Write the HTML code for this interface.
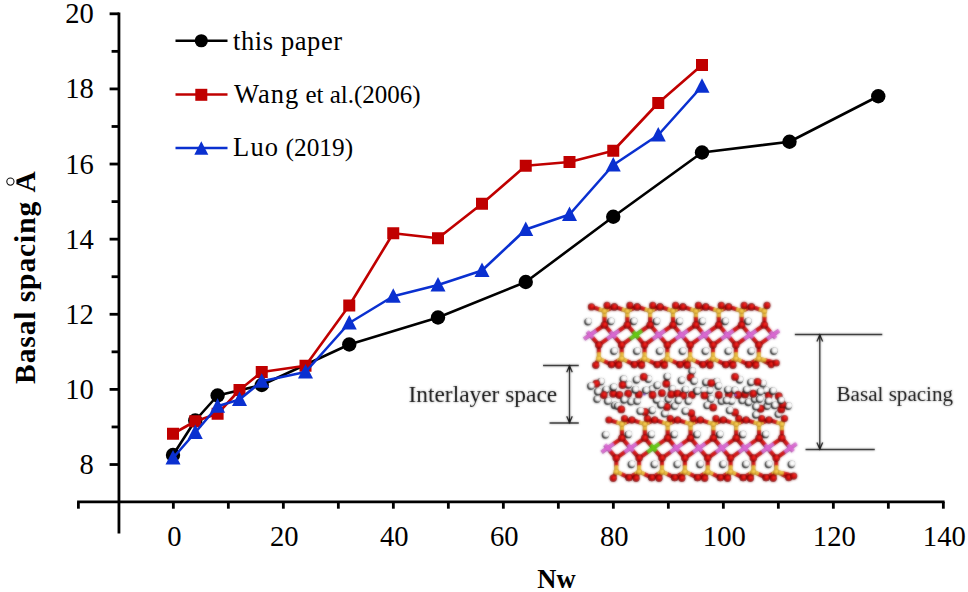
<!DOCTYPE html>
<html lang="en"><head><meta charset="utf-8"><title>Basal spacing vs Nw</title>
<style>html,body{margin:0;padding:0;background:#fff;}body{width:968px;height:592px;overflow:hidden;}svg{display:block;}text{font-family:"Liberation Serif",serif;fill:#000;}</style>
</head><body>
<svg width="968" height="592" viewBox="0 0 968 592">
<defs>
<radialGradient id="gO" cx="0.5" cy="0.5" r="0.5" fx="0.64" fy="0.34"><stop offset="0" stop-color="#ff3a2a"/><stop offset="0.45" stop-color="#e01212"/><stop offset="0.78" stop-color="#a80404"/><stop offset="1" stop-color="#520000"/></radialGradient>
<radialGradient id="gH" cx="0.5" cy="0.5" r="0.5" fx="0.62" fy="0.38"><stop offset="0" stop-color="#ffffff"/><stop offset="0.6" stop-color="#ffffff"/><stop offset="0.85" stop-color="#d8d8d8"/><stop offset="1" stop-color="#8c8c8c"/></radialGradient>
<radialGradient id="gS" cx="0.5" cy="0.5" r="0.5" fx="0.62" fy="0.36"><stop offset="0" stop-color="#ffe477"/><stop offset="0.55" stop-color="#efbf3c"/><stop offset="1" stop-color="#b48420"/></radialGradient>
<filter id="soft" x="-5%" y="-5%" width="110%" height="110%" color-interpolation-filters="sRGB"><feGaussianBlur stdDeviation="0.9" result="b"/><feComposite in="b" in2="SourceGraphic" operator="arithmetic" k1="0" k2="0.7" k3="0.3" k4="0"/></filter>
<filter id="soft2" x="-2%" y="-5%" width="104%" height="110%" color-interpolation-filters="sRGB"><feGaussianBlur stdDeviation="0.8" result="b"/><feComposite in="b" in2="SourceGraphic" operator="arithmetic" k1="0" k2="0.4" k3="0.6" k4="0"/></filter>
</defs>
<rect width="968" height="592" fill="#fff"/>
<g stroke="#000" stroke-width="2.8" fill="none" stroke-linecap="butt">
<path d="M118.95 12.4V533.4"/>
<path d="M77.1 501.9H944.60"/>
<path d="M109.6 464.52H118.95"/>
<path d="M111.6 426.96H118.95"/>
<path d="M109.6 389.40H118.95"/>
<path d="M111.6 351.84H118.95"/>
<path d="M109.6 314.28H118.95"/>
<path d="M111.6 276.72H118.95"/>
<path d="M109.6 239.16H118.95"/>
<path d="M111.6 201.60H118.95"/>
<path d="M109.6 164.04H118.95"/>
<path d="M111.6 126.48H118.95"/>
<path d="M109.6 88.92H118.95"/>
<path d="M111.6 51.36H118.95"/>
<path d="M109.6 13.80H118.95"/>
<path d="M78.4 501.9V508.7"/>
<path d="M173.35 501.9V508.7"/>
<path d="M228.35 501.9V508.7"/>
<path d="M283.35 501.9V508.7"/>
<path d="M338.35 501.9V508.7"/>
<path d="M393.35 501.9V508.7"/>
<path d="M448.35 501.9V508.7"/>
<path d="M503.35 501.9V508.7"/>
<path d="M558.35 501.9V508.7"/>
<path d="M613.35 501.9V508.7"/>
<path d="M668.35 501.9V508.7"/>
<path d="M723.35 501.9V508.7"/>
<path d="M778.35 501.9V508.7"/>
<path d="M833.35 501.9V508.7"/>
<path d="M888.35 501.9V508.7"/>
<path d="M943.35 501.9V508.7"/>
</g>
<g font-size="28.6" text-anchor="end">
<text x="93.8" y="474.02">8</text>
<text x="93.8" y="398.90">10</text>
<text x="93.8" y="323.78">12</text>
<text x="93.8" y="248.66">14</text>
<text x="93.8" y="173.54">16</text>
<text x="93.8" y="98.42">18</text>
<text x="93.8" y="23.30">20</text>
</g>
<g font-size="28.6" text-anchor="middle">
<text x="174.30" y="545.9">0</text>
<text x="284.30" y="545.9">20</text>
<text x="394.30" y="545.9">40</text>
<text x="504.30" y="545.9">60</text>
<text x="614.30" y="545.9">80</text>
<text x="724.30" y="545.9">100</text>
<text x="834.30" y="545.9">120</text>
<text x="944.30" y="545.9">140</text>
</g>
<text x="556.5" y="587.8" font-size="26.5" font-weight="bold" text-anchor="middle">Nw</text>
<g transform="translate(34.5 383.9) rotate(-90)" font-size="29.5" font-weight="bold" letter-spacing="0.9">
<text x="0" y="0">Basal spacing </text>
<clipPath id="clipA"><rect x="185" y="-18.1" width="36" height="30"/></clipPath>
<text x="191.3" y="0" clip-path="url(#clipA)">Å</text>
<circle cx="202.3" cy="-24.1" r="3.6" fill="none" stroke="#111" stroke-width="1.1"/>
</g>
<polyline points="173.00,455.00 195.25,420.50 217.60,395.50 261.75,385.00 349.25,344.50 438.00,317.50 525.75,282.00 613.25,216.75 702.00,152.50 789.50,141.75 878.25,96.25" fill="none" stroke="#000000" stroke-width="2.6" stroke-linejoin="round"/>
<circle cx="173.00" cy="455.00" r="7.2" fill="#000000"/>
<circle cx="195.25" cy="420.50" r="7.2" fill="#000000"/>
<circle cx="217.60" cy="395.50" r="7.2" fill="#000000"/>
<circle cx="261.75" cy="385.00" r="7.2" fill="#000000"/>
<circle cx="349.25" cy="344.50" r="7.2" fill="#000000"/>
<circle cx="438.00" cy="317.50" r="7.2" fill="#000000"/>
<circle cx="525.75" cy="282.00" r="7.2" fill="#000000"/>
<circle cx="613.25" cy="216.75" r="7.2" fill="#000000"/>
<circle cx="702.00" cy="152.50" r="7.2" fill="#000000"/>
<circle cx="789.50" cy="141.75" r="7.2" fill="#000000"/>
<circle cx="878.25" cy="96.25" r="7.2" fill="#000000"/>
<polyline points="173.00,433.75 195.25,421.25 217.60,413.75 239.50,390.00 261.75,372.00 305.50,365.75 349.25,305.50 393.25,233.25 438.00,238.25 482.00,203.75 525.75,165.75 569.50,162.00 613.25,150.75 658.25,103.00 702.00,65.00" fill="none" stroke="#c00000" stroke-width="2.6" stroke-linejoin="round"/>
<rect x="167.00" y="427.75" width="12" height="12" fill="#c00000"/>
<rect x="189.25" y="415.25" width="12" height="12" fill="#c00000"/>
<rect x="211.60" y="407.75" width="12" height="12" fill="#c00000"/>
<rect x="233.50" y="384.00" width="12" height="12" fill="#c00000"/>
<rect x="255.75" y="366.00" width="12" height="12" fill="#c00000"/>
<rect x="299.50" y="359.75" width="12" height="12" fill="#c00000"/>
<rect x="343.25" y="299.50" width="12" height="12" fill="#c00000"/>
<rect x="387.25" y="227.25" width="12" height="12" fill="#c00000"/>
<rect x="432.00" y="232.25" width="12" height="12" fill="#c00000"/>
<rect x="476.00" y="197.75" width="12" height="12" fill="#c00000"/>
<rect x="519.75" y="159.75" width="12" height="12" fill="#c00000"/>
<rect x="563.50" y="156.00" width="12" height="12" fill="#c00000"/>
<rect x="607.25" y="144.75" width="12" height="12" fill="#c00000"/>
<rect x="652.25" y="97.00" width="12" height="12" fill="#c00000"/>
<rect x="696.00" y="59.00" width="12" height="12" fill="#c00000"/>
<polyline points="173.00,458.00 195.25,432.50 217.60,406.25 239.50,399.50 261.75,381.25 305.50,372.00 349.25,323.00 393.25,296.25 438.00,285.00 482.00,270.50 525.75,229.50 569.50,214.50 613.25,165.00 658.25,135.00 702.00,86.25" fill="none" stroke="#0a30d0" stroke-width="2.6" stroke-linejoin="round"/>
<path d="M173.00 450.10L180.50 464.50H165.50Z" fill="#0a30d0"/>
<path d="M195.25 424.60L202.75 439.00H187.75Z" fill="#0a30d0"/>
<path d="M217.60 398.35L225.10 412.75H210.10Z" fill="#0a30d0"/>
<path d="M239.50 391.60L247.00 406.00H232.00Z" fill="#0a30d0"/>
<path d="M261.75 373.35L269.25 387.75H254.25Z" fill="#0a30d0"/>
<path d="M305.50 364.10L313.00 378.50H298.00Z" fill="#0a30d0"/>
<path d="M349.25 315.10L356.75 329.50H341.75Z" fill="#0a30d0"/>
<path d="M393.25 288.35L400.75 302.75H385.75Z" fill="#0a30d0"/>
<path d="M438.00 277.10L445.50 291.50H430.50Z" fill="#0a30d0"/>
<path d="M482.00 262.60L489.50 277.00H474.50Z" fill="#0a30d0"/>
<path d="M525.75 221.60L533.25 236.00H518.25Z" fill="#0a30d0"/>
<path d="M569.50 206.60L577.00 221.00H562.00Z" fill="#0a30d0"/>
<path d="M613.25 157.10L620.75 171.50H605.75Z" fill="#0a30d0"/>
<path d="M658.25 127.10L665.75 141.50H650.75Z" fill="#0a30d0"/>
<path d="M702.00 78.35L709.50 92.75H694.50Z" fill="#0a30d0"/>
<path d="M175.5 40.75H227.5" stroke="#000000" stroke-width="2.4"/><circle cx="201.3" cy="40.75" r="6.6" fill="#000000"/>
<path d="M175.5 94.5H227.5" stroke="#c00000" stroke-width="2.4"/><rect x="195.3" y="88.8" width="12" height="12" fill="#c00000"/>
<path d="M175.5 148H227.5" stroke="#0a30d0" stroke-width="2.4"/><path d="M201.30 141.30L208.30 154.80H194.30Z" fill="#0a30d0"/>
<text x="233" y="49.5" font-size="26.5" letter-spacing="0.6">this paper</text>
<text x="234" y="103.1" font-size="26.5"><tspan letter-spacing="1.0">Wang</tspan><tspan font-size="25"> et al.(2006)</tspan></text>
<text x="233" y="155.5" font-size="26.5"><tspan letter-spacing="1.2">Luo</tspan><tspan font-size="25.3"> (2019)</tspan></text>
<g filter="url(#soft2)">
<g stroke="#0a0a0a" stroke-width="1.35" fill="none">
<path d="M543 365.5H578.8M549.5 423H578.8M569.5 366V422.5"/>
<path d="M566.7 372.3L569.5 366L572.3 372.3M566.7 416.2L569.5 422.5L572.3 416.2"/>
<path d="M794.8 334.5H882.3M805.5 449.5H874.8M819.8 335V449"/>
<path d="M816.9 341.5L819.8 335L822.7 341.5M816.9 442.5L819.8 449L822.7 442.5"/>
</g>
<text x="408.5" y="402" font-size="23.4" fill="#000">Interlayer space</text>
<text x="836.5" y="400.5" font-size="21.1" fill="#000">Basal spacing</text>
</g>
<g filter="url(#soft)">
<path d="M598.94 309.28L591.40 306.90" stroke="#860000" stroke-width="4.1" stroke-linecap="round"/><path d="M599.29 308.93L591.75 306.55" stroke="#d81010" stroke-width="3.03" stroke-linecap="round"/><path d="M604.40 311.00L598.94 309.28" stroke="#a87a18" stroke-width="4.1" stroke-linecap="butt"/><path d="M604.75 310.65L599.29 308.93" stroke="#efbf3c" stroke-width="3.03" stroke-linecap="butt"/><path d="M608.60 309.28L614.40 306.90" stroke="#860000" stroke-width="4.1" stroke-linecap="round"/><path d="M608.95 308.93L614.75 306.55" stroke="#d81010" stroke-width="3.03" stroke-linecap="round"/><path d="M604.40 311.00L608.60 309.28" stroke="#a87a18" stroke-width="4.1" stroke-linecap="butt"/><path d="M604.75 310.65L608.95 308.93" stroke="#efbf3c" stroke-width="3.03" stroke-linecap="butt"/><path d="M605.49 308.73L607.00 305.60" stroke="#860000" stroke-width="4.1" stroke-linecap="round"/><path d="M605.84 308.38L607.35 305.25" stroke="#d81010" stroke-width="3.03" stroke-linecap="round"/><path d="M604.40 311.00L605.49 308.73" stroke="#a87a18" stroke-width="4.1" stroke-linecap="butt"/><path d="M604.75 310.65L605.84 308.38" stroke="#efbf3c" stroke-width="3.03" stroke-linecap="butt"/><path d="M604.40 317.30L604.40 325.00" stroke="#860000" stroke-width="4.1" stroke-linecap="round"/><path d="M604.75 316.95L604.75 324.65" stroke="#d81010" stroke-width="3.03" stroke-linecap="round"/><path d="M604.40 311.00L604.40 317.30" stroke="#a87a18" stroke-width="4.1" stroke-linecap="butt"/><path d="M604.75 310.65L604.75 316.95" stroke="#efbf3c" stroke-width="3.03" stroke-linecap="butt"/><path d="M604.00 361.12L611.25 364.60" stroke="#860000" stroke-width="4.1" stroke-linecap="round"/><path d="M604.35 360.77L611.60 364.25" stroke="#d81010" stroke-width="3.03" stroke-linecap="round"/><path d="M598.75 358.60L604.00 361.12" stroke="#a87a18" stroke-width="4.1" stroke-linecap="butt"/><path d="M599.10 358.25L604.35 360.77" stroke="#efbf3c" stroke-width="3.03" stroke-linecap="butt"/><path d="M597.49 361.20L595.75 364.80" stroke="#860000" stroke-width="4.1" stroke-linecap="round"/><path d="M597.84 360.85L596.10 364.45" stroke="#d81010" stroke-width="3.03" stroke-linecap="round"/><path d="M598.75 358.60L597.49 361.20" stroke="#a87a18" stroke-width="4.1" stroke-linecap="butt"/><path d="M599.10 358.25L597.84 360.85" stroke="#efbf3c" stroke-width="3.03" stroke-linecap="butt"/><path d="M598.75 352.48L598.75 345.00" stroke="#860000" stroke-width="4.1" stroke-linecap="round"/><path d="M599.10 352.13L599.10 344.65" stroke="#d81010" stroke-width="3.03" stroke-linecap="round"/><path d="M598.75 358.60L598.75 352.48" stroke="#a87a18" stroke-width="4.1" stroke-linecap="butt"/><path d="M599.10 358.25L599.10 352.13" stroke="#efbf3c" stroke-width="3.03" stroke-linecap="butt"/><path d="M621.79 309.28L614.25 306.90" stroke="#860000" stroke-width="4.1" stroke-linecap="round"/><path d="M622.14 308.93L614.60 306.55" stroke="#d81010" stroke-width="3.03" stroke-linecap="round"/><path d="M627.25 311.00L621.79 309.28" stroke="#a87a18" stroke-width="4.1" stroke-linecap="butt"/><path d="M627.60 310.65L622.14 308.93" stroke="#efbf3c" stroke-width="3.03" stroke-linecap="butt"/><path d="M631.45 309.28L637.25 306.90" stroke="#860000" stroke-width="4.1" stroke-linecap="round"/><path d="M631.80 308.93L637.60 306.55" stroke="#d81010" stroke-width="3.03" stroke-linecap="round"/><path d="M627.25 311.00L631.45 309.28" stroke="#a87a18" stroke-width="4.1" stroke-linecap="butt"/><path d="M627.60 310.65L631.80 308.93" stroke="#efbf3c" stroke-width="3.03" stroke-linecap="butt"/><path d="M628.34 308.73L629.85 305.60" stroke="#860000" stroke-width="4.1" stroke-linecap="round"/><path d="M628.69 308.38L630.20 305.25" stroke="#d81010" stroke-width="3.03" stroke-linecap="round"/><path d="M627.25 311.00L628.34 308.73" stroke="#a87a18" stroke-width="4.1" stroke-linecap="butt"/><path d="M627.60 310.65L628.69 308.38" stroke="#efbf3c" stroke-width="3.03" stroke-linecap="butt"/><path d="M627.25 317.30L627.25 325.00" stroke="#860000" stroke-width="4.1" stroke-linecap="round"/><path d="M627.60 316.95L627.60 324.65" stroke="#d81010" stroke-width="3.03" stroke-linecap="round"/><path d="M627.25 311.00L627.25 317.30" stroke="#a87a18" stroke-width="4.1" stroke-linecap="butt"/><path d="M627.60 310.65L627.60 316.95" stroke="#efbf3c" stroke-width="3.03" stroke-linecap="butt"/><path d="M626.85 361.12L634.10 364.60" stroke="#860000" stroke-width="4.1" stroke-linecap="round"/><path d="M627.20 360.77L634.45 364.25" stroke="#d81010" stroke-width="3.03" stroke-linecap="round"/><path d="M621.60 358.60L626.85 361.12" stroke="#a87a18" stroke-width="4.1" stroke-linecap="butt"/><path d="M621.95 358.25L627.20 360.77" stroke="#efbf3c" stroke-width="3.03" stroke-linecap="butt"/><path d="M617.40 361.12L611.60 364.60" stroke="#860000" stroke-width="4.1" stroke-linecap="round"/><path d="M617.75 360.77L611.95 364.25" stroke="#d81010" stroke-width="3.03" stroke-linecap="round"/><path d="M621.60 358.60L617.40 361.12" stroke="#a87a18" stroke-width="4.1" stroke-linecap="butt"/><path d="M621.95 358.25L617.75 360.77" stroke="#efbf3c" stroke-width="3.03" stroke-linecap="butt"/><path d="M620.34 361.20L618.60 364.80" stroke="#860000" stroke-width="4.1" stroke-linecap="round"/><path d="M620.69 360.85L618.95 364.45" stroke="#d81010" stroke-width="3.03" stroke-linecap="round"/><path d="M621.60 358.60L620.34 361.20" stroke="#a87a18" stroke-width="4.1" stroke-linecap="butt"/><path d="M621.95 358.25L620.69 360.85" stroke="#efbf3c" stroke-width="3.03" stroke-linecap="butt"/><path d="M621.60 352.48L621.60 345.00" stroke="#860000" stroke-width="4.1" stroke-linecap="round"/><path d="M621.95 352.13L621.95 344.65" stroke="#d81010" stroke-width="3.03" stroke-linecap="round"/><path d="M621.60 358.60L621.60 352.48" stroke="#a87a18" stroke-width="4.1" stroke-linecap="butt"/><path d="M621.95 358.25L621.95 352.13" stroke="#efbf3c" stroke-width="3.03" stroke-linecap="butt"/><path d="M644.64 309.28L637.10 306.90" stroke="#860000" stroke-width="4.1" stroke-linecap="round"/><path d="M644.99 308.93L637.45 306.55" stroke="#d81010" stroke-width="3.03" stroke-linecap="round"/><path d="M650.10 311.00L644.64 309.28" stroke="#a87a18" stroke-width="4.1" stroke-linecap="butt"/><path d="M650.45 310.65L644.99 308.93" stroke="#efbf3c" stroke-width="3.03" stroke-linecap="butt"/><path d="M654.30 309.28L660.10 306.90" stroke="#860000" stroke-width="4.1" stroke-linecap="round"/><path d="M654.65 308.93L660.45 306.55" stroke="#d81010" stroke-width="3.03" stroke-linecap="round"/><path d="M650.10 311.00L654.30 309.28" stroke="#a87a18" stroke-width="4.1" stroke-linecap="butt"/><path d="M650.45 310.65L654.65 308.93" stroke="#efbf3c" stroke-width="3.03" stroke-linecap="butt"/><path d="M651.19 308.73L652.70 305.60" stroke="#860000" stroke-width="4.1" stroke-linecap="round"/><path d="M651.54 308.38L653.05 305.25" stroke="#d81010" stroke-width="3.03" stroke-linecap="round"/><path d="M650.10 311.00L651.19 308.73" stroke="#a87a18" stroke-width="4.1" stroke-linecap="butt"/><path d="M650.45 310.65L651.54 308.38" stroke="#efbf3c" stroke-width="3.03" stroke-linecap="butt"/><path d="M650.10 317.30L650.10 325.00" stroke="#860000" stroke-width="4.1" stroke-linecap="round"/><path d="M650.45 316.95L650.45 324.65" stroke="#d81010" stroke-width="3.03" stroke-linecap="round"/><path d="M650.10 311.00L650.10 317.30" stroke="#a87a18" stroke-width="4.1" stroke-linecap="butt"/><path d="M650.45 310.65L650.45 316.95" stroke="#efbf3c" stroke-width="3.03" stroke-linecap="butt"/><path d="M649.70 361.12L656.95 364.60" stroke="#860000" stroke-width="4.1" stroke-linecap="round"/><path d="M650.05 360.77L657.30 364.25" stroke="#d81010" stroke-width="3.03" stroke-linecap="round"/><path d="M644.45 358.60L649.70 361.12" stroke="#a87a18" stroke-width="4.1" stroke-linecap="butt"/><path d="M644.80 358.25L650.05 360.77" stroke="#efbf3c" stroke-width="3.03" stroke-linecap="butt"/><path d="M640.25 361.12L634.45 364.60" stroke="#860000" stroke-width="4.1" stroke-linecap="round"/><path d="M640.60 360.77L634.80 364.25" stroke="#d81010" stroke-width="3.03" stroke-linecap="round"/><path d="M644.45 358.60L640.25 361.12" stroke="#a87a18" stroke-width="4.1" stroke-linecap="butt"/><path d="M644.80 358.25L640.60 360.77" stroke="#efbf3c" stroke-width="3.03" stroke-linecap="butt"/><path d="M643.19 361.20L641.45 364.80" stroke="#860000" stroke-width="4.1" stroke-linecap="round"/><path d="M643.54 360.85L641.80 364.45" stroke="#d81010" stroke-width="3.03" stroke-linecap="round"/><path d="M644.45 358.60L643.19 361.20" stroke="#a87a18" stroke-width="4.1" stroke-linecap="butt"/><path d="M644.80 358.25L643.54 360.85" stroke="#efbf3c" stroke-width="3.03" stroke-linecap="butt"/><path d="M644.45 352.48L644.45 345.00" stroke="#860000" stroke-width="4.1" stroke-linecap="round"/><path d="M644.80 352.13L644.80 344.65" stroke="#d81010" stroke-width="3.03" stroke-linecap="round"/><path d="M644.45 358.60L644.45 352.48" stroke="#a87a18" stroke-width="4.1" stroke-linecap="butt"/><path d="M644.80 358.25L644.80 352.13" stroke="#efbf3c" stroke-width="3.03" stroke-linecap="butt"/><path d="M667.49 309.28L659.95 306.90" stroke="#860000" stroke-width="4.1" stroke-linecap="round"/><path d="M667.84 308.93L660.30 306.55" stroke="#d81010" stroke-width="3.03" stroke-linecap="round"/><path d="M672.95 311.00L667.49 309.28" stroke="#a87a18" stroke-width="4.1" stroke-linecap="butt"/><path d="M673.30 310.65L667.84 308.93" stroke="#efbf3c" stroke-width="3.03" stroke-linecap="butt"/><path d="M677.15 309.28L682.95 306.90" stroke="#860000" stroke-width="4.1" stroke-linecap="round"/><path d="M677.50 308.93L683.30 306.55" stroke="#d81010" stroke-width="3.03" stroke-linecap="round"/><path d="M672.95 311.00L677.15 309.28" stroke="#a87a18" stroke-width="4.1" stroke-linecap="butt"/><path d="M673.30 310.65L677.50 308.93" stroke="#efbf3c" stroke-width="3.03" stroke-linecap="butt"/><path d="M674.04 308.73L675.55 305.60" stroke="#860000" stroke-width="4.1" stroke-linecap="round"/><path d="M674.39 308.38L675.90 305.25" stroke="#d81010" stroke-width="3.03" stroke-linecap="round"/><path d="M672.95 311.00L674.04 308.73" stroke="#a87a18" stroke-width="4.1" stroke-linecap="butt"/><path d="M673.30 310.65L674.39 308.38" stroke="#efbf3c" stroke-width="3.03" stroke-linecap="butt"/><path d="M672.95 317.30L672.95 325.00" stroke="#860000" stroke-width="4.1" stroke-linecap="round"/><path d="M673.30 316.95L673.30 324.65" stroke="#d81010" stroke-width="3.03" stroke-linecap="round"/><path d="M672.95 311.00L672.95 317.30" stroke="#a87a18" stroke-width="4.1" stroke-linecap="butt"/><path d="M673.30 310.65L673.30 316.95" stroke="#efbf3c" stroke-width="3.03" stroke-linecap="butt"/><path d="M672.55 361.12L679.80 364.60" stroke="#860000" stroke-width="4.1" stroke-linecap="round"/><path d="M672.90 360.77L680.15 364.25" stroke="#d81010" stroke-width="3.03" stroke-linecap="round"/><path d="M667.30 358.60L672.55 361.12" stroke="#a87a18" stroke-width="4.1" stroke-linecap="butt"/><path d="M667.65 358.25L672.90 360.77" stroke="#efbf3c" stroke-width="3.03" stroke-linecap="butt"/><path d="M663.10 361.12L657.30 364.60" stroke="#860000" stroke-width="4.1" stroke-linecap="round"/><path d="M663.45 360.77L657.65 364.25" stroke="#d81010" stroke-width="3.03" stroke-linecap="round"/><path d="M667.30 358.60L663.10 361.12" stroke="#a87a18" stroke-width="4.1" stroke-linecap="butt"/><path d="M667.65 358.25L663.45 360.77" stroke="#efbf3c" stroke-width="3.03" stroke-linecap="butt"/><path d="M666.04 361.20L664.30 364.80" stroke="#860000" stroke-width="4.1" stroke-linecap="round"/><path d="M666.39 360.85L664.65 364.45" stroke="#d81010" stroke-width="3.03" stroke-linecap="round"/><path d="M667.30 358.60L666.04 361.20" stroke="#a87a18" stroke-width="4.1" stroke-linecap="butt"/><path d="M667.65 358.25L666.39 360.85" stroke="#efbf3c" stroke-width="3.03" stroke-linecap="butt"/><path d="M667.30 352.48L667.30 345.00" stroke="#860000" stroke-width="4.1" stroke-linecap="round"/><path d="M667.65 352.13L667.65 344.65" stroke="#d81010" stroke-width="3.03" stroke-linecap="round"/><path d="M667.30 358.60L667.30 352.48" stroke="#a87a18" stroke-width="4.1" stroke-linecap="butt"/><path d="M667.65 358.25L667.65 352.13" stroke="#efbf3c" stroke-width="3.03" stroke-linecap="butt"/><path d="M690.34 309.28L682.80 306.90" stroke="#860000" stroke-width="4.1" stroke-linecap="round"/><path d="M690.69 308.93L683.15 306.55" stroke="#d81010" stroke-width="3.03" stroke-linecap="round"/><path d="M695.80 311.00L690.34 309.28" stroke="#a87a18" stroke-width="4.1" stroke-linecap="butt"/><path d="M696.15 310.65L690.69 308.93" stroke="#efbf3c" stroke-width="3.03" stroke-linecap="butt"/><path d="M700.00 309.28L705.80 306.90" stroke="#860000" stroke-width="4.1" stroke-linecap="round"/><path d="M700.35 308.93L706.15 306.55" stroke="#d81010" stroke-width="3.03" stroke-linecap="round"/><path d="M695.80 311.00L700.00 309.28" stroke="#a87a18" stroke-width="4.1" stroke-linecap="butt"/><path d="M696.15 310.65L700.35 308.93" stroke="#efbf3c" stroke-width="3.03" stroke-linecap="butt"/><path d="M696.89 308.73L698.40 305.60" stroke="#860000" stroke-width="4.1" stroke-linecap="round"/><path d="M697.24 308.38L698.75 305.25" stroke="#d81010" stroke-width="3.03" stroke-linecap="round"/><path d="M695.80 311.00L696.89 308.73" stroke="#a87a18" stroke-width="4.1" stroke-linecap="butt"/><path d="M696.15 310.65L697.24 308.38" stroke="#efbf3c" stroke-width="3.03" stroke-linecap="butt"/><path d="M695.80 317.30L695.80 325.00" stroke="#860000" stroke-width="4.1" stroke-linecap="round"/><path d="M696.15 316.95L696.15 324.65" stroke="#d81010" stroke-width="3.03" stroke-linecap="round"/><path d="M695.80 311.00L695.80 317.30" stroke="#a87a18" stroke-width="4.1" stroke-linecap="butt"/><path d="M696.15 310.65L696.15 316.95" stroke="#efbf3c" stroke-width="3.03" stroke-linecap="butt"/><path d="M695.40 361.12L702.65 364.60" stroke="#860000" stroke-width="4.1" stroke-linecap="round"/><path d="M695.75 360.77L703.00 364.25" stroke="#d81010" stroke-width="3.03" stroke-linecap="round"/><path d="M690.15 358.60L695.40 361.12" stroke="#a87a18" stroke-width="4.1" stroke-linecap="butt"/><path d="M690.50 358.25L695.75 360.77" stroke="#efbf3c" stroke-width="3.03" stroke-linecap="butt"/><path d="M685.95 361.12L680.15 364.60" stroke="#860000" stroke-width="4.1" stroke-linecap="round"/><path d="M686.30 360.77L680.50 364.25" stroke="#d81010" stroke-width="3.03" stroke-linecap="round"/><path d="M690.15 358.60L685.95 361.12" stroke="#a87a18" stroke-width="4.1" stroke-linecap="butt"/><path d="M690.50 358.25L686.30 360.77" stroke="#efbf3c" stroke-width="3.03" stroke-linecap="butt"/><path d="M688.89 361.20L687.15 364.80" stroke="#860000" stroke-width="4.1" stroke-linecap="round"/><path d="M689.24 360.85L687.50 364.45" stroke="#d81010" stroke-width="3.03" stroke-linecap="round"/><path d="M690.15 358.60L688.89 361.20" stroke="#a87a18" stroke-width="4.1" stroke-linecap="butt"/><path d="M690.50 358.25L689.24 360.85" stroke="#efbf3c" stroke-width="3.03" stroke-linecap="butt"/><path d="M690.15 352.48L690.15 345.00" stroke="#860000" stroke-width="4.1" stroke-linecap="round"/><path d="M690.50 352.13L690.50 344.65" stroke="#d81010" stroke-width="3.03" stroke-linecap="round"/><path d="M690.15 358.60L690.15 352.48" stroke="#a87a18" stroke-width="4.1" stroke-linecap="butt"/><path d="M690.50 358.25L690.50 352.13" stroke="#efbf3c" stroke-width="3.03" stroke-linecap="butt"/><path d="M713.19 309.28L705.65 306.90" stroke="#860000" stroke-width="4.1" stroke-linecap="round"/><path d="M713.54 308.93L706.00 306.55" stroke="#d81010" stroke-width="3.03" stroke-linecap="round"/><path d="M718.65 311.00L713.19 309.28" stroke="#a87a18" stroke-width="4.1" stroke-linecap="butt"/><path d="M719.00 310.65L713.54 308.93" stroke="#efbf3c" stroke-width="3.03" stroke-linecap="butt"/><path d="M722.85 309.28L728.65 306.90" stroke="#860000" stroke-width="4.1" stroke-linecap="round"/><path d="M723.20 308.93L729.00 306.55" stroke="#d81010" stroke-width="3.03" stroke-linecap="round"/><path d="M718.65 311.00L722.85 309.28" stroke="#a87a18" stroke-width="4.1" stroke-linecap="butt"/><path d="M719.00 310.65L723.20 308.93" stroke="#efbf3c" stroke-width="3.03" stroke-linecap="butt"/><path d="M719.74 308.73L721.25 305.60" stroke="#860000" stroke-width="4.1" stroke-linecap="round"/><path d="M720.09 308.38L721.60 305.25" stroke="#d81010" stroke-width="3.03" stroke-linecap="round"/><path d="M718.65 311.00L719.74 308.73" stroke="#a87a18" stroke-width="4.1" stroke-linecap="butt"/><path d="M719.00 310.65L720.09 308.38" stroke="#efbf3c" stroke-width="3.03" stroke-linecap="butt"/><path d="M718.65 317.30L718.65 325.00" stroke="#860000" stroke-width="4.1" stroke-linecap="round"/><path d="M719.00 316.95L719.00 324.65" stroke="#d81010" stroke-width="3.03" stroke-linecap="round"/><path d="M718.65 311.00L718.65 317.30" stroke="#a87a18" stroke-width="4.1" stroke-linecap="butt"/><path d="M719.00 310.65L719.00 316.95" stroke="#efbf3c" stroke-width="3.03" stroke-linecap="butt"/><path d="M718.25 361.12L725.50 364.60" stroke="#860000" stroke-width="4.1" stroke-linecap="round"/><path d="M718.60 360.77L725.85 364.25" stroke="#d81010" stroke-width="3.03" stroke-linecap="round"/><path d="M713.00 358.60L718.25 361.12" stroke="#a87a18" stroke-width="4.1" stroke-linecap="butt"/><path d="M713.35 358.25L718.60 360.77" stroke="#efbf3c" stroke-width="3.03" stroke-linecap="butt"/><path d="M708.80 361.12L703.00 364.60" stroke="#860000" stroke-width="4.1" stroke-linecap="round"/><path d="M709.15 360.77L703.35 364.25" stroke="#d81010" stroke-width="3.03" stroke-linecap="round"/><path d="M713.00 358.60L708.80 361.12" stroke="#a87a18" stroke-width="4.1" stroke-linecap="butt"/><path d="M713.35 358.25L709.15 360.77" stroke="#efbf3c" stroke-width="3.03" stroke-linecap="butt"/><path d="M711.74 361.20L710.00 364.80" stroke="#860000" stroke-width="4.1" stroke-linecap="round"/><path d="M712.09 360.85L710.35 364.45" stroke="#d81010" stroke-width="3.03" stroke-linecap="round"/><path d="M713.00 358.60L711.74 361.20" stroke="#a87a18" stroke-width="4.1" stroke-linecap="butt"/><path d="M713.35 358.25L712.09 360.85" stroke="#efbf3c" stroke-width="3.03" stroke-linecap="butt"/><path d="M713.00 352.48L713.00 345.00" stroke="#860000" stroke-width="4.1" stroke-linecap="round"/><path d="M713.35 352.13L713.35 344.65" stroke="#d81010" stroke-width="3.03" stroke-linecap="round"/><path d="M713.00 358.60L713.00 352.48" stroke="#a87a18" stroke-width="4.1" stroke-linecap="butt"/><path d="M713.35 358.25L713.35 352.13" stroke="#efbf3c" stroke-width="3.03" stroke-linecap="butt"/><path d="M736.04 309.28L728.50 306.90" stroke="#860000" stroke-width="4.1" stroke-linecap="round"/><path d="M736.39 308.93L728.85 306.55" stroke="#d81010" stroke-width="3.03" stroke-linecap="round"/><path d="M741.50 311.00L736.04 309.28" stroke="#a87a18" stroke-width="4.1" stroke-linecap="butt"/><path d="M741.85 310.65L736.39 308.93" stroke="#efbf3c" stroke-width="3.03" stroke-linecap="butt"/><path d="M745.70 309.28L751.50 306.90" stroke="#860000" stroke-width="4.1" stroke-linecap="round"/><path d="M746.05 308.93L751.85 306.55" stroke="#d81010" stroke-width="3.03" stroke-linecap="round"/><path d="M741.50 311.00L745.70 309.28" stroke="#a87a18" stroke-width="4.1" stroke-linecap="butt"/><path d="M741.85 310.65L746.05 308.93" stroke="#efbf3c" stroke-width="3.03" stroke-linecap="butt"/><path d="M742.59 308.73L744.10 305.60" stroke="#860000" stroke-width="4.1" stroke-linecap="round"/><path d="M742.94 308.38L744.45 305.25" stroke="#d81010" stroke-width="3.03" stroke-linecap="round"/><path d="M741.50 311.00L742.59 308.73" stroke="#a87a18" stroke-width="4.1" stroke-linecap="butt"/><path d="M741.85 310.65L742.94 308.38" stroke="#efbf3c" stroke-width="3.03" stroke-linecap="butt"/><path d="M741.50 317.30L741.50 325.00" stroke="#860000" stroke-width="4.1" stroke-linecap="round"/><path d="M741.85 316.95L741.85 324.65" stroke="#d81010" stroke-width="3.03" stroke-linecap="round"/><path d="M741.50 311.00L741.50 317.30" stroke="#a87a18" stroke-width="4.1" stroke-linecap="butt"/><path d="M741.85 310.65L741.85 316.95" stroke="#efbf3c" stroke-width="3.03" stroke-linecap="butt"/><path d="M741.10 361.12L748.35 364.60" stroke="#860000" stroke-width="4.1" stroke-linecap="round"/><path d="M741.45 360.77L748.70 364.25" stroke="#d81010" stroke-width="3.03" stroke-linecap="round"/><path d="M735.85 358.60L741.10 361.12" stroke="#a87a18" stroke-width="4.1" stroke-linecap="butt"/><path d="M736.20 358.25L741.45 360.77" stroke="#efbf3c" stroke-width="3.03" stroke-linecap="butt"/><path d="M731.65 361.12L725.85 364.60" stroke="#860000" stroke-width="4.1" stroke-linecap="round"/><path d="M732.00 360.77L726.20 364.25" stroke="#d81010" stroke-width="3.03" stroke-linecap="round"/><path d="M735.85 358.60L731.65 361.12" stroke="#a87a18" stroke-width="4.1" stroke-linecap="butt"/><path d="M736.20 358.25L732.00 360.77" stroke="#efbf3c" stroke-width="3.03" stroke-linecap="butt"/><path d="M734.59 361.20L732.85 364.80" stroke="#860000" stroke-width="4.1" stroke-linecap="round"/><path d="M734.94 360.85L733.20 364.45" stroke="#d81010" stroke-width="3.03" stroke-linecap="round"/><path d="M735.85 358.60L734.59 361.20" stroke="#a87a18" stroke-width="4.1" stroke-linecap="butt"/><path d="M736.20 358.25L734.94 360.85" stroke="#efbf3c" stroke-width="3.03" stroke-linecap="butt"/><path d="M735.85 352.48L735.85 345.00" stroke="#860000" stroke-width="4.1" stroke-linecap="round"/><path d="M736.20 352.13L736.20 344.65" stroke="#d81010" stroke-width="3.03" stroke-linecap="round"/><path d="M735.85 358.60L735.85 352.48" stroke="#a87a18" stroke-width="4.1" stroke-linecap="butt"/><path d="M736.20 358.25L736.20 352.13" stroke="#efbf3c" stroke-width="3.03" stroke-linecap="butt"/><path d="M758.89 309.28L751.35 306.90" stroke="#860000" stroke-width="4.1" stroke-linecap="round"/><path d="M759.24 308.93L751.70 306.55" stroke="#d81010" stroke-width="3.03" stroke-linecap="round"/><path d="M764.35 311.00L758.89 309.28" stroke="#a87a18" stroke-width="4.1" stroke-linecap="butt"/><path d="M764.70 310.65L759.24 308.93" stroke="#efbf3c" stroke-width="3.03" stroke-linecap="butt"/><path d="M765.44 308.73L766.95 305.60" stroke="#860000" stroke-width="4.1" stroke-linecap="round"/><path d="M765.79 308.38L767.30 305.25" stroke="#d81010" stroke-width="3.03" stroke-linecap="round"/><path d="M764.35 311.00L765.44 308.73" stroke="#a87a18" stroke-width="4.1" stroke-linecap="butt"/><path d="M764.70 310.65L765.79 308.38" stroke="#efbf3c" stroke-width="3.03" stroke-linecap="butt"/><path d="M764.35 317.30L764.35 325.00" stroke="#860000" stroke-width="4.1" stroke-linecap="round"/><path d="M764.70 316.95L764.70 324.65" stroke="#d81010" stroke-width="3.03" stroke-linecap="round"/><path d="M764.35 311.00L764.35 317.30" stroke="#a87a18" stroke-width="4.1" stroke-linecap="butt"/><path d="M764.70 310.65L764.70 316.95" stroke="#efbf3c" stroke-width="3.03" stroke-linecap="butt"/><path d="M763.95 361.12L771.20 364.60" stroke="#860000" stroke-width="4.1" stroke-linecap="round"/><path d="M764.30 360.77L771.55 364.25" stroke="#d81010" stroke-width="3.03" stroke-linecap="round"/><path d="M758.70 358.60L763.95 361.12" stroke="#a87a18" stroke-width="4.1" stroke-linecap="butt"/><path d="M759.05 358.25L764.30 360.77" stroke="#efbf3c" stroke-width="3.03" stroke-linecap="butt"/><path d="M754.50 361.12L748.70 364.60" stroke="#860000" stroke-width="4.1" stroke-linecap="round"/><path d="M754.85 360.77L749.05 364.25" stroke="#d81010" stroke-width="3.03" stroke-linecap="round"/><path d="M758.70 358.60L754.50 361.12" stroke="#a87a18" stroke-width="4.1" stroke-linecap="butt"/><path d="M759.05 358.25L754.85 360.77" stroke="#efbf3c" stroke-width="3.03" stroke-linecap="butt"/><path d="M766.05 360.45L776.20 363.00" stroke="#860000" stroke-width="4.1" stroke-linecap="round"/><path d="M766.40 360.10L776.55 362.65" stroke="#d81010" stroke-width="3.03" stroke-linecap="round"/><path d="M758.70 358.60L766.05 360.45" stroke="#a87a18" stroke-width="4.1" stroke-linecap="butt"/><path d="M759.05 358.25L766.40 360.10" stroke="#efbf3c" stroke-width="3.03" stroke-linecap="butt"/><path d="M757.44 361.20L755.70 364.80" stroke="#860000" stroke-width="4.1" stroke-linecap="round"/><path d="M757.79 360.85L756.05 364.45" stroke="#d81010" stroke-width="3.03" stroke-linecap="round"/><path d="M758.70 358.60L757.44 361.20" stroke="#a87a18" stroke-width="4.1" stroke-linecap="butt"/><path d="M759.05 358.25L757.79 360.85" stroke="#efbf3c" stroke-width="3.03" stroke-linecap="butt"/><path d="M758.70 352.48L758.70 345.00" stroke="#860000" stroke-width="4.1" stroke-linecap="round"/><path d="M759.05 352.13L759.05 344.65" stroke="#d81010" stroke-width="3.03" stroke-linecap="round"/><path d="M758.70 358.60L758.70 352.48" stroke="#a87a18" stroke-width="4.1" stroke-linecap="butt"/><path d="M759.05 358.25L759.05 352.13" stroke="#efbf3c" stroke-width="3.03" stroke-linecap="butt"/><path d="M590.00 335.00L587.30 331.80" stroke="#8a3a86" stroke-width="4.1" stroke-linecap="butt"/><path d="M590.35 334.65L587.65 331.45" stroke="#dc68d4" stroke-width="3.03" stroke-linecap="butt"/><path d="M596.05 330.80L604.40 325.00" stroke="#860000" stroke-width="4.1" stroke-linecap="round"/><path d="M596.40 330.45L604.75 324.65" stroke="#d81010" stroke-width="3.03" stroke-linecap="round"/><path d="M590.00 335.00L596.05 330.80" stroke="#8a3a86" stroke-width="4.1" stroke-linecap="butt"/><path d="M590.35 334.65L596.40 330.45" stroke="#dc68d4" stroke-width="3.03" stroke-linecap="butt"/><path d="M590.00 335.00L584.08 339.20" stroke="#8a3a86" stroke-width="4.1" stroke-linecap="butt"/><path d="M590.35 334.65L584.43 338.85" stroke="#dc68d4" stroke-width="3.03" stroke-linecap="butt"/><path d="M592.80 338.20L598.75 345.00" stroke="#860000" stroke-width="4.1" stroke-linecap="round"/><path d="M593.15 337.85L599.10 344.65" stroke="#d81010" stroke-width="3.03" stroke-linecap="round"/><path d="M590.00 335.00L592.80 338.20" stroke="#8a3a86" stroke-width="4.1" stroke-linecap="butt"/><path d="M590.35 334.65L593.15 337.85" stroke="#dc68d4" stroke-width="3.03" stroke-linecap="butt"/><path d="M610.15 331.80L604.40 325.00" stroke="#860000" stroke-width="4.1" stroke-linecap="round"/><path d="M610.50 331.45L604.75 324.65" stroke="#d81010" stroke-width="3.03" stroke-linecap="round"/><path d="M612.85 335.00L610.15 331.80" stroke="#8a3a86" stroke-width="4.1" stroke-linecap="butt"/><path d="M613.20 334.65L610.50 331.45" stroke="#dc68d4" stroke-width="3.03" stroke-linecap="butt"/><path d="M618.90 330.80L627.25 325.00" stroke="#860000" stroke-width="4.1" stroke-linecap="round"/><path d="M619.25 330.45L627.60 324.65" stroke="#d81010" stroke-width="3.03" stroke-linecap="round"/><path d="M612.85 335.00L618.90 330.80" stroke="#8a3a86" stroke-width="4.1" stroke-linecap="butt"/><path d="M613.20 334.65L619.25 330.45" stroke="#dc68d4" stroke-width="3.03" stroke-linecap="butt"/><path d="M606.93 339.20L598.75 345.00" stroke="#860000" stroke-width="4.1" stroke-linecap="round"/><path d="M607.28 338.85L599.10 344.65" stroke="#d81010" stroke-width="3.03" stroke-linecap="round"/><path d="M612.85 335.00L606.93 339.20" stroke="#8a3a86" stroke-width="4.1" stroke-linecap="butt"/><path d="M613.20 334.65L607.28 338.85" stroke="#dc68d4" stroke-width="3.03" stroke-linecap="butt"/><path d="M615.65 338.20L621.60 345.00" stroke="#860000" stroke-width="4.1" stroke-linecap="round"/><path d="M616.00 337.85L621.95 344.65" stroke="#d81010" stroke-width="3.03" stroke-linecap="round"/><path d="M612.85 335.00L615.65 338.20" stroke="#8a3a86" stroke-width="4.1" stroke-linecap="butt"/><path d="M613.20 334.65L616.00 337.85" stroke="#dc68d4" stroke-width="3.03" stroke-linecap="butt"/><path d="M633.00 331.80L627.25 325.00" stroke="#860000" stroke-width="4.1" stroke-linecap="round"/><path d="M633.35 331.45L627.60 324.65" stroke="#d81010" stroke-width="3.03" stroke-linecap="round"/><path d="M635.70 335.00L633.00 331.80" stroke="#3a7a08" stroke-width="4.1" stroke-linecap="butt"/><path d="M636.05 334.65L633.35 331.45" stroke="#66cc11" stroke-width="3.03" stroke-linecap="butt"/><path d="M641.75 330.80L650.10 325.00" stroke="#860000" stroke-width="4.1" stroke-linecap="round"/><path d="M642.10 330.45L650.45 324.65" stroke="#d81010" stroke-width="3.03" stroke-linecap="round"/><path d="M635.70 335.00L641.75 330.80" stroke="#3a7a08" stroke-width="4.1" stroke-linecap="butt"/><path d="M636.05 334.65L642.10 330.45" stroke="#66cc11" stroke-width="3.03" stroke-linecap="butt"/><path d="M629.78 339.20L621.60 345.00" stroke="#860000" stroke-width="4.1" stroke-linecap="round"/><path d="M630.13 338.85L621.95 344.65" stroke="#d81010" stroke-width="3.03" stroke-linecap="round"/><path d="M635.70 335.00L629.78 339.20" stroke="#3a7a08" stroke-width="4.1" stroke-linecap="butt"/><path d="M636.05 334.65L630.13 338.85" stroke="#66cc11" stroke-width="3.03" stroke-linecap="butt"/><path d="M638.50 338.20L644.45 345.00" stroke="#860000" stroke-width="4.1" stroke-linecap="round"/><path d="M638.85 337.85L644.80 344.65" stroke="#d81010" stroke-width="3.03" stroke-linecap="round"/><path d="M635.70 335.00L638.50 338.20" stroke="#3a7a08" stroke-width="4.1" stroke-linecap="butt"/><path d="M636.05 334.65L638.85 337.85" stroke="#66cc11" stroke-width="3.03" stroke-linecap="butt"/><path d="M655.85 331.80L650.10 325.00" stroke="#860000" stroke-width="4.1" stroke-linecap="round"/><path d="M656.20 331.45L650.45 324.65" stroke="#d81010" stroke-width="3.03" stroke-linecap="round"/><path d="M658.55 335.00L655.85 331.80" stroke="#8a3a86" stroke-width="4.1" stroke-linecap="butt"/><path d="M658.90 334.65L656.20 331.45" stroke="#dc68d4" stroke-width="3.03" stroke-linecap="butt"/><path d="M664.60 330.80L672.95 325.00" stroke="#860000" stroke-width="4.1" stroke-linecap="round"/><path d="M664.95 330.45L673.30 324.65" stroke="#d81010" stroke-width="3.03" stroke-linecap="round"/><path d="M658.55 335.00L664.60 330.80" stroke="#8a3a86" stroke-width="4.1" stroke-linecap="butt"/><path d="M658.90 334.65L664.95 330.45" stroke="#dc68d4" stroke-width="3.03" stroke-linecap="butt"/><path d="M652.63 339.20L644.45 345.00" stroke="#860000" stroke-width="4.1" stroke-linecap="round"/><path d="M652.98 338.85L644.80 344.65" stroke="#d81010" stroke-width="3.03" stroke-linecap="round"/><path d="M658.55 335.00L652.63 339.20" stroke="#8a3a86" stroke-width="4.1" stroke-linecap="butt"/><path d="M658.90 334.65L652.98 338.85" stroke="#dc68d4" stroke-width="3.03" stroke-linecap="butt"/><path d="M661.35 338.20L667.30 345.00" stroke="#860000" stroke-width="4.1" stroke-linecap="round"/><path d="M661.70 337.85L667.65 344.65" stroke="#d81010" stroke-width="3.03" stroke-linecap="round"/><path d="M658.55 335.00L661.35 338.20" stroke="#8a3a86" stroke-width="4.1" stroke-linecap="butt"/><path d="M658.90 334.65L661.70 337.85" stroke="#dc68d4" stroke-width="3.03" stroke-linecap="butt"/><path d="M678.70 331.80L672.95 325.00" stroke="#860000" stroke-width="4.1" stroke-linecap="round"/><path d="M679.05 331.45L673.30 324.65" stroke="#d81010" stroke-width="3.03" stroke-linecap="round"/><path d="M681.40 335.00L678.70 331.80" stroke="#8a3a86" stroke-width="4.1" stroke-linecap="butt"/><path d="M681.75 334.65L679.05 331.45" stroke="#dc68d4" stroke-width="3.03" stroke-linecap="butt"/><path d="M687.45 330.80L695.80 325.00" stroke="#860000" stroke-width="4.1" stroke-linecap="round"/><path d="M687.80 330.45L696.15 324.65" stroke="#d81010" stroke-width="3.03" stroke-linecap="round"/><path d="M681.40 335.00L687.45 330.80" stroke="#8a3a86" stroke-width="4.1" stroke-linecap="butt"/><path d="M681.75 334.65L687.80 330.45" stroke="#dc68d4" stroke-width="3.03" stroke-linecap="butt"/><path d="M675.48 339.20L667.30 345.00" stroke="#860000" stroke-width="4.1" stroke-linecap="round"/><path d="M675.83 338.85L667.65 344.65" stroke="#d81010" stroke-width="3.03" stroke-linecap="round"/><path d="M681.40 335.00L675.48 339.20" stroke="#8a3a86" stroke-width="4.1" stroke-linecap="butt"/><path d="M681.75 334.65L675.83 338.85" stroke="#dc68d4" stroke-width="3.03" stroke-linecap="butt"/><path d="M684.20 338.20L690.15 345.00" stroke="#860000" stroke-width="4.1" stroke-linecap="round"/><path d="M684.55 337.85L690.50 344.65" stroke="#d81010" stroke-width="3.03" stroke-linecap="round"/><path d="M681.40 335.00L684.20 338.20" stroke="#8a3a86" stroke-width="4.1" stroke-linecap="butt"/><path d="M681.75 334.65L684.55 337.85" stroke="#dc68d4" stroke-width="3.03" stroke-linecap="butt"/><path d="M701.55 331.80L695.80 325.00" stroke="#860000" stroke-width="4.1" stroke-linecap="round"/><path d="M701.90 331.45L696.15 324.65" stroke="#d81010" stroke-width="3.03" stroke-linecap="round"/><path d="M704.25 335.00L701.55 331.80" stroke="#8a3a86" stroke-width="4.1" stroke-linecap="butt"/><path d="M704.60 334.65L701.90 331.45" stroke="#dc68d4" stroke-width="3.03" stroke-linecap="butt"/><path d="M710.30 330.80L718.65 325.00" stroke="#860000" stroke-width="4.1" stroke-linecap="round"/><path d="M710.65 330.45L719.00 324.65" stroke="#d81010" stroke-width="3.03" stroke-linecap="round"/><path d="M704.25 335.00L710.30 330.80" stroke="#8a3a86" stroke-width="4.1" stroke-linecap="butt"/><path d="M704.60 334.65L710.65 330.45" stroke="#dc68d4" stroke-width="3.03" stroke-linecap="butt"/><path d="M698.33 339.20L690.15 345.00" stroke="#860000" stroke-width="4.1" stroke-linecap="round"/><path d="M698.68 338.85L690.50 344.65" stroke="#d81010" stroke-width="3.03" stroke-linecap="round"/><path d="M704.25 335.00L698.33 339.20" stroke="#8a3a86" stroke-width="4.1" stroke-linecap="butt"/><path d="M704.60 334.65L698.68 338.85" stroke="#dc68d4" stroke-width="3.03" stroke-linecap="butt"/><path d="M707.05 338.20L713.00 345.00" stroke="#860000" stroke-width="4.1" stroke-linecap="round"/><path d="M707.40 337.85L713.35 344.65" stroke="#d81010" stroke-width="3.03" stroke-linecap="round"/><path d="M704.25 335.00L707.05 338.20" stroke="#8a3a86" stroke-width="4.1" stroke-linecap="butt"/><path d="M704.60 334.65L707.40 337.85" stroke="#dc68d4" stroke-width="3.03" stroke-linecap="butt"/><path d="M724.40 331.80L718.65 325.00" stroke="#860000" stroke-width="4.1" stroke-linecap="round"/><path d="M724.75 331.45L719.00 324.65" stroke="#d81010" stroke-width="3.03" stroke-linecap="round"/><path d="M727.10 335.00L724.40 331.80" stroke="#8a3a86" stroke-width="4.1" stroke-linecap="butt"/><path d="M727.45 334.65L724.75 331.45" stroke="#dc68d4" stroke-width="3.03" stroke-linecap="butt"/><path d="M733.15 330.80L741.50 325.00" stroke="#860000" stroke-width="4.1" stroke-linecap="round"/><path d="M733.50 330.45L741.85 324.65" stroke="#d81010" stroke-width="3.03" stroke-linecap="round"/><path d="M727.10 335.00L733.15 330.80" stroke="#8a3a86" stroke-width="4.1" stroke-linecap="butt"/><path d="M727.45 334.65L733.50 330.45" stroke="#dc68d4" stroke-width="3.03" stroke-linecap="butt"/><path d="M721.18 339.20L713.00 345.00" stroke="#860000" stroke-width="4.1" stroke-linecap="round"/><path d="M721.53 338.85L713.35 344.65" stroke="#d81010" stroke-width="3.03" stroke-linecap="round"/><path d="M727.10 335.00L721.18 339.20" stroke="#8a3a86" stroke-width="4.1" stroke-linecap="butt"/><path d="M727.45 334.65L721.53 338.85" stroke="#dc68d4" stroke-width="3.03" stroke-linecap="butt"/><path d="M729.90 338.20L735.85 345.00" stroke="#860000" stroke-width="4.1" stroke-linecap="round"/><path d="M730.25 337.85L736.20 344.65" stroke="#d81010" stroke-width="3.03" stroke-linecap="round"/><path d="M727.10 335.00L729.90 338.20" stroke="#8a3a86" stroke-width="4.1" stroke-linecap="butt"/><path d="M727.45 334.65L730.25 337.85" stroke="#dc68d4" stroke-width="3.03" stroke-linecap="butt"/><path d="M747.25 331.80L741.50 325.00" stroke="#860000" stroke-width="4.1" stroke-linecap="round"/><path d="M747.60 331.45L741.85 324.65" stroke="#d81010" stroke-width="3.03" stroke-linecap="round"/><path d="M749.95 335.00L747.25 331.80" stroke="#8a3a86" stroke-width="4.1" stroke-linecap="butt"/><path d="M750.30 334.65L747.60 331.45" stroke="#dc68d4" stroke-width="3.03" stroke-linecap="butt"/><path d="M756.00 330.80L764.35 325.00" stroke="#860000" stroke-width="4.1" stroke-linecap="round"/><path d="M756.35 330.45L764.70 324.65" stroke="#d81010" stroke-width="3.03" stroke-linecap="round"/><path d="M749.95 335.00L756.00 330.80" stroke="#8a3a86" stroke-width="4.1" stroke-linecap="butt"/><path d="M750.30 334.65L756.35 330.45" stroke="#dc68d4" stroke-width="3.03" stroke-linecap="butt"/><path d="M744.03 339.20L735.85 345.00" stroke="#860000" stroke-width="4.1" stroke-linecap="round"/><path d="M744.38 338.85L736.20 344.65" stroke="#d81010" stroke-width="3.03" stroke-linecap="round"/><path d="M749.95 335.00L744.03 339.20" stroke="#8a3a86" stroke-width="4.1" stroke-linecap="butt"/><path d="M750.30 334.65L744.38 338.85" stroke="#dc68d4" stroke-width="3.03" stroke-linecap="butt"/><path d="M752.75 338.20L758.70 345.00" stroke="#860000" stroke-width="4.1" stroke-linecap="round"/><path d="M753.10 337.85L759.05 344.65" stroke="#d81010" stroke-width="3.03" stroke-linecap="round"/><path d="M749.95 335.00L752.75 338.20" stroke="#8a3a86" stroke-width="4.1" stroke-linecap="butt"/><path d="M750.30 334.65L753.10 337.85" stroke="#dc68d4" stroke-width="3.03" stroke-linecap="butt"/><path d="M770.10 331.80L764.35 325.00" stroke="#860000" stroke-width="4.1" stroke-linecap="round"/><path d="M770.45 331.45L764.70 324.65" stroke="#d81010" stroke-width="3.03" stroke-linecap="round"/><path d="M772.80 335.00L770.10 331.80" stroke="#8a3a86" stroke-width="4.1" stroke-linecap="butt"/><path d="M773.15 334.65L770.45 331.45" stroke="#dc68d4" stroke-width="3.03" stroke-linecap="butt"/><path d="M772.80 335.00L778.85 330.80" stroke="#8a3a86" stroke-width="4.1" stroke-linecap="butt"/><path d="M773.15 334.65L779.20 330.45" stroke="#dc68d4" stroke-width="3.03" stroke-linecap="butt"/><path d="M766.88 339.20L758.70 345.00" stroke="#860000" stroke-width="4.1" stroke-linecap="round"/><path d="M767.23 338.85L759.05 344.65" stroke="#d81010" stroke-width="3.03" stroke-linecap="round"/><path d="M772.80 335.00L766.88 339.20" stroke="#8a3a86" stroke-width="4.1" stroke-linecap="butt"/><path d="M773.15 334.65L767.23 338.85" stroke="#dc68d4" stroke-width="3.03" stroke-linecap="butt"/><path d="M772.80 335.00L775.60 338.20" stroke="#8a3a86" stroke-width="4.1" stroke-linecap="butt"/><path d="M773.15 334.65L775.95 337.85" stroke="#dc68d4" stroke-width="3.03" stroke-linecap="butt"/><circle cx="604.40" cy="311.00" r="2.9" fill="url(#gS)"/><circle cx="598.75" cy="358.60" r="2.9" fill="url(#gS)"/><circle cx="627.25" cy="311.00" r="2.9" fill="url(#gS)"/><circle cx="621.60" cy="358.60" r="2.9" fill="url(#gS)"/><circle cx="650.10" cy="311.00" r="2.9" fill="url(#gS)"/><circle cx="644.45" cy="358.60" r="2.9" fill="url(#gS)"/><circle cx="672.95" cy="311.00" r="2.9" fill="url(#gS)"/><circle cx="667.30" cy="358.60" r="2.9" fill="url(#gS)"/><circle cx="695.80" cy="311.00" r="2.9" fill="url(#gS)"/><circle cx="690.15" cy="358.60" r="2.9" fill="url(#gS)"/><circle cx="718.65" cy="311.00" r="2.9" fill="url(#gS)"/><circle cx="713.00" cy="358.60" r="2.9" fill="url(#gS)"/><circle cx="741.50" cy="311.00" r="2.9" fill="url(#gS)"/><circle cx="735.85" cy="358.60" r="2.9" fill="url(#gS)"/><circle cx="764.35" cy="311.00" r="2.9" fill="url(#gS)"/><circle cx="758.70" cy="358.60" r="2.9" fill="url(#gS)"/><circle cx="590.00" cy="335.00" r="2.3" fill="#dc68d4"/><circle cx="612.85" cy="335.00" r="2.3" fill="#dc68d4"/><circle cx="635.70" cy="335.00" r="2.3" fill="#66cc11"/><circle cx="658.55" cy="335.00" r="2.3" fill="#dc68d4"/><circle cx="681.40" cy="335.00" r="2.3" fill="#dc68d4"/><circle cx="704.25" cy="335.00" r="2.3" fill="#dc68d4"/><circle cx="727.10" cy="335.00" r="2.3" fill="#dc68d4"/><circle cx="749.95" cy="335.00" r="2.3" fill="#dc68d4"/><circle cx="772.80" cy="335.00" r="2.3" fill="#dc68d4"/><circle cx="610.65" cy="321.55" r="3.7" fill="#141414"/><circle cx="611.45" cy="320.75" r="3.25" fill="url(#gH)"/><circle cx="613.80" cy="351.35" r="3.7" fill="#141414"/><circle cx="614.60" cy="350.55" r="3.25" fill="url(#gH)"/><circle cx="633.50" cy="321.55" r="3.7" fill="#141414"/><circle cx="634.30" cy="320.75" r="3.25" fill="url(#gH)"/><circle cx="636.65" cy="351.35" r="3.7" fill="#141414"/><circle cx="637.45" cy="350.55" r="3.25" fill="url(#gH)"/><circle cx="656.35" cy="321.55" r="3.7" fill="#141414"/><circle cx="657.15" cy="320.75" r="3.25" fill="url(#gH)"/><circle cx="659.50" cy="351.35" r="3.7" fill="#141414"/><circle cx="660.30" cy="350.55" r="3.25" fill="url(#gH)"/><circle cx="679.20" cy="321.55" r="3.7" fill="#141414"/><circle cx="680.00" cy="320.75" r="3.25" fill="url(#gH)"/><circle cx="682.35" cy="351.35" r="3.7" fill="#141414"/><circle cx="683.15" cy="350.55" r="3.25" fill="url(#gH)"/><circle cx="702.05" cy="321.55" r="3.7" fill="#141414"/><circle cx="702.85" cy="320.75" r="3.25" fill="url(#gH)"/><circle cx="705.20" cy="351.35" r="3.7" fill="#141414"/><circle cx="706.00" cy="350.55" r="3.25" fill="url(#gH)"/><circle cx="724.90" cy="321.55" r="3.7" fill="#141414"/><circle cx="725.70" cy="320.75" r="3.25" fill="url(#gH)"/><circle cx="728.05" cy="351.35" r="3.7" fill="#141414"/><circle cx="728.85" cy="350.55" r="3.25" fill="url(#gH)"/><circle cx="747.75" cy="321.55" r="3.7" fill="#141414"/><circle cx="748.55" cy="320.75" r="3.25" fill="url(#gH)"/><circle cx="750.90" cy="351.35" r="3.7" fill="#141414"/><circle cx="751.70" cy="350.55" r="3.25" fill="url(#gH)"/><circle cx="773.75" cy="351.35" r="3.7" fill="#141414"/><circle cx="774.55" cy="350.55" r="3.25" fill="url(#gH)"/><circle cx="587.85" cy="321.85" r="3.7" fill="#141414"/><circle cx="588.65" cy="321.05" r="3.25" fill="url(#gH)"/><circle cx="591.40" cy="306.90" r="3.6" fill="url(#gO)"/><circle cx="614.40" cy="306.90" r="3.6" fill="url(#gO)"/><circle cx="607.00" cy="305.40" r="3.6" fill="url(#gO)"/><circle cx="604.40" cy="325.00" r="3.8" fill="url(#gO)"/><circle cx="611.25" cy="364.60" r="3.6" fill="url(#gO)"/><circle cx="595.75" cy="365.20" r="3.7" fill="url(#gO)"/><circle cx="598.75" cy="345.00" r="3.8" fill="url(#gO)"/><circle cx="614.25" cy="306.90" r="3.6" fill="url(#gO)"/><circle cx="637.25" cy="306.90" r="3.6" fill="url(#gO)"/><circle cx="629.85" cy="305.40" r="3.6" fill="url(#gO)"/><circle cx="627.25" cy="325.00" r="3.8" fill="url(#gO)"/><circle cx="634.10" cy="364.60" r="3.6" fill="url(#gO)"/><circle cx="611.60" cy="364.60" r="3.6" fill="url(#gO)"/><circle cx="618.60" cy="365.20" r="3.7" fill="url(#gO)"/><circle cx="621.60" cy="345.00" r="3.8" fill="url(#gO)"/><circle cx="637.10" cy="306.90" r="3.6" fill="url(#gO)"/><circle cx="660.10" cy="306.90" r="3.6" fill="url(#gO)"/><circle cx="652.70" cy="305.40" r="3.6" fill="url(#gO)"/><circle cx="650.10" cy="325.00" r="3.8" fill="url(#gO)"/><circle cx="656.95" cy="364.60" r="3.6" fill="url(#gO)"/><circle cx="634.45" cy="364.60" r="3.6" fill="url(#gO)"/><circle cx="641.45" cy="365.20" r="3.7" fill="url(#gO)"/><circle cx="644.45" cy="345.00" r="3.8" fill="url(#gO)"/><circle cx="659.95" cy="306.90" r="3.6" fill="url(#gO)"/><circle cx="682.95" cy="306.90" r="3.6" fill="url(#gO)"/><circle cx="675.55" cy="305.40" r="3.6" fill="url(#gO)"/><circle cx="672.95" cy="325.00" r="3.8" fill="url(#gO)"/><circle cx="679.80" cy="364.60" r="3.6" fill="url(#gO)"/><circle cx="657.30" cy="364.60" r="3.6" fill="url(#gO)"/><circle cx="664.30" cy="365.20" r="3.7" fill="url(#gO)"/><circle cx="667.30" cy="345.00" r="3.8" fill="url(#gO)"/><circle cx="682.80" cy="306.90" r="3.6" fill="url(#gO)"/><circle cx="705.80" cy="306.90" r="3.6" fill="url(#gO)"/><circle cx="698.40" cy="305.40" r="3.6" fill="url(#gO)"/><circle cx="695.80" cy="325.00" r="3.8" fill="url(#gO)"/><circle cx="702.65" cy="364.60" r="3.6" fill="url(#gO)"/><circle cx="680.15" cy="364.60" r="3.6" fill="url(#gO)"/><circle cx="687.15" cy="365.20" r="3.7" fill="url(#gO)"/><circle cx="690.15" cy="345.00" r="3.8" fill="url(#gO)"/><circle cx="705.65" cy="306.90" r="3.6" fill="url(#gO)"/><circle cx="728.65" cy="306.90" r="3.6" fill="url(#gO)"/><circle cx="721.25" cy="305.40" r="3.6" fill="url(#gO)"/><circle cx="718.65" cy="325.00" r="3.8" fill="url(#gO)"/><circle cx="725.50" cy="364.60" r="3.6" fill="url(#gO)"/><circle cx="703.00" cy="364.60" r="3.6" fill="url(#gO)"/><circle cx="710.00" cy="365.20" r="3.7" fill="url(#gO)"/><circle cx="713.00" cy="345.00" r="3.8" fill="url(#gO)"/><circle cx="728.50" cy="306.90" r="3.6" fill="url(#gO)"/><circle cx="751.50" cy="306.90" r="3.6" fill="url(#gO)"/><circle cx="744.10" cy="305.40" r="3.6" fill="url(#gO)"/><circle cx="741.50" cy="325.00" r="3.8" fill="url(#gO)"/><circle cx="748.35" cy="364.60" r="3.6" fill="url(#gO)"/><circle cx="725.85" cy="364.60" r="3.6" fill="url(#gO)"/><circle cx="732.85" cy="365.20" r="3.7" fill="url(#gO)"/><circle cx="735.85" cy="345.00" r="3.8" fill="url(#gO)"/><circle cx="751.35" cy="306.90" r="3.6" fill="url(#gO)"/><circle cx="766.95" cy="305.40" r="3.6" fill="url(#gO)"/><circle cx="764.35" cy="325.00" r="3.8" fill="url(#gO)"/><circle cx="771.20" cy="364.60" r="3.6" fill="url(#gO)"/><circle cx="748.70" cy="364.60" r="3.6" fill="url(#gO)"/><circle cx="776.20" cy="363.00" r="3.6" fill="url(#gO)"/><circle cx="755.70" cy="365.20" r="3.7" fill="url(#gO)"/><circle cx="758.70" cy="345.00" r="3.8" fill="url(#gO)"/>
<path d="M616.44 422.38L608.90 420.00" stroke="#860000" stroke-width="4.1" stroke-linecap="round"/><path d="M616.79 422.03L609.25 419.65" stroke="#d81010" stroke-width="3.03" stroke-linecap="round"/><path d="M621.90 424.10L616.44 422.38" stroke="#a87a18" stroke-width="4.1" stroke-linecap="butt"/><path d="M622.25 423.75L616.79 422.03" stroke="#efbf3c" stroke-width="3.03" stroke-linecap="butt"/><path d="M626.10 422.38L631.90 420.00" stroke="#860000" stroke-width="4.1" stroke-linecap="round"/><path d="M626.45 422.03L632.25 419.65" stroke="#d81010" stroke-width="3.03" stroke-linecap="round"/><path d="M621.90 424.10L626.10 422.38" stroke="#a87a18" stroke-width="4.1" stroke-linecap="butt"/><path d="M622.25 423.75L626.45 422.03" stroke="#efbf3c" stroke-width="3.03" stroke-linecap="butt"/><path d="M622.99 421.83L624.50 418.70" stroke="#860000" stroke-width="4.1" stroke-linecap="round"/><path d="M623.34 421.48L624.85 418.35" stroke="#d81010" stroke-width="3.03" stroke-linecap="round"/><path d="M621.90 424.10L622.99 421.83" stroke="#a87a18" stroke-width="4.1" stroke-linecap="butt"/><path d="M622.25 423.75L623.34 421.48" stroke="#efbf3c" stroke-width="3.03" stroke-linecap="butt"/><path d="M621.90 430.40L621.90 438.10" stroke="#860000" stroke-width="4.1" stroke-linecap="round"/><path d="M622.25 430.05L622.25 437.75" stroke="#d81010" stroke-width="3.03" stroke-linecap="round"/><path d="M621.90 424.10L621.90 430.40" stroke="#a87a18" stroke-width="4.1" stroke-linecap="butt"/><path d="M622.25 423.75L622.25 430.05" stroke="#efbf3c" stroke-width="3.03" stroke-linecap="butt"/><path d="M621.50 474.22L628.75 477.70" stroke="#860000" stroke-width="4.1" stroke-linecap="round"/><path d="M621.85 473.87L629.10 477.35" stroke="#d81010" stroke-width="3.03" stroke-linecap="round"/><path d="M616.25 471.70L621.50 474.22" stroke="#a87a18" stroke-width="4.1" stroke-linecap="butt"/><path d="M616.60 471.35L621.85 473.87" stroke="#efbf3c" stroke-width="3.03" stroke-linecap="butt"/><path d="M614.99 474.30L613.25 477.90" stroke="#860000" stroke-width="4.1" stroke-linecap="round"/><path d="M615.34 473.95L613.60 477.55" stroke="#d81010" stroke-width="3.03" stroke-linecap="round"/><path d="M616.25 471.70L614.99 474.30" stroke="#a87a18" stroke-width="4.1" stroke-linecap="butt"/><path d="M616.60 471.35L615.34 473.95" stroke="#efbf3c" stroke-width="3.03" stroke-linecap="butt"/><path d="M616.25 465.58L616.25 458.10" stroke="#860000" stroke-width="4.1" stroke-linecap="round"/><path d="M616.60 465.23L616.60 457.75" stroke="#d81010" stroke-width="3.03" stroke-linecap="round"/><path d="M616.25 471.70L616.25 465.58" stroke="#a87a18" stroke-width="4.1" stroke-linecap="butt"/><path d="M616.60 471.35L616.60 465.23" stroke="#efbf3c" stroke-width="3.03" stroke-linecap="butt"/><path d="M639.29 422.38L631.75 420.00" stroke="#860000" stroke-width="4.1" stroke-linecap="round"/><path d="M639.64 422.03L632.10 419.65" stroke="#d81010" stroke-width="3.03" stroke-linecap="round"/><path d="M644.75 424.10L639.29 422.38" stroke="#a87a18" stroke-width="4.1" stroke-linecap="butt"/><path d="M645.10 423.75L639.64 422.03" stroke="#efbf3c" stroke-width="3.03" stroke-linecap="butt"/><path d="M648.95 422.38L654.75 420.00" stroke="#860000" stroke-width="4.1" stroke-linecap="round"/><path d="M649.30 422.03L655.10 419.65" stroke="#d81010" stroke-width="3.03" stroke-linecap="round"/><path d="M644.75 424.10L648.95 422.38" stroke="#a87a18" stroke-width="4.1" stroke-linecap="butt"/><path d="M645.10 423.75L649.30 422.03" stroke="#efbf3c" stroke-width="3.03" stroke-linecap="butt"/><path d="M645.84 421.83L647.35 418.70" stroke="#860000" stroke-width="4.1" stroke-linecap="round"/><path d="M646.19 421.48L647.70 418.35" stroke="#d81010" stroke-width="3.03" stroke-linecap="round"/><path d="M644.75 424.10L645.84 421.83" stroke="#a87a18" stroke-width="4.1" stroke-linecap="butt"/><path d="M645.10 423.75L646.19 421.48" stroke="#efbf3c" stroke-width="3.03" stroke-linecap="butt"/><path d="M644.75 430.40L644.75 438.10" stroke="#860000" stroke-width="4.1" stroke-linecap="round"/><path d="M645.10 430.05L645.10 437.75" stroke="#d81010" stroke-width="3.03" stroke-linecap="round"/><path d="M644.75 424.10L644.75 430.40" stroke="#a87a18" stroke-width="4.1" stroke-linecap="butt"/><path d="M645.10 423.75L645.10 430.05" stroke="#efbf3c" stroke-width="3.03" stroke-linecap="butt"/><path d="M644.35 474.22L651.60 477.70" stroke="#860000" stroke-width="4.1" stroke-linecap="round"/><path d="M644.70 473.87L651.95 477.35" stroke="#d81010" stroke-width="3.03" stroke-linecap="round"/><path d="M639.10 471.70L644.35 474.22" stroke="#a87a18" stroke-width="4.1" stroke-linecap="butt"/><path d="M639.45 471.35L644.70 473.87" stroke="#efbf3c" stroke-width="3.03" stroke-linecap="butt"/><path d="M634.90 474.22L629.10 477.70" stroke="#860000" stroke-width="4.1" stroke-linecap="round"/><path d="M635.25 473.87L629.45 477.35" stroke="#d81010" stroke-width="3.03" stroke-linecap="round"/><path d="M639.10 471.70L634.90 474.22" stroke="#a87a18" stroke-width="4.1" stroke-linecap="butt"/><path d="M639.45 471.35L635.25 473.87" stroke="#efbf3c" stroke-width="3.03" stroke-linecap="butt"/><path d="M637.84 474.30L636.10 477.90" stroke="#860000" stroke-width="4.1" stroke-linecap="round"/><path d="M638.19 473.95L636.45 477.55" stroke="#d81010" stroke-width="3.03" stroke-linecap="round"/><path d="M639.10 471.70L637.84 474.30" stroke="#a87a18" stroke-width="4.1" stroke-linecap="butt"/><path d="M639.45 471.35L638.19 473.95" stroke="#efbf3c" stroke-width="3.03" stroke-linecap="butt"/><path d="M639.10 465.58L639.10 458.10" stroke="#860000" stroke-width="4.1" stroke-linecap="round"/><path d="M639.45 465.23L639.45 457.75" stroke="#d81010" stroke-width="3.03" stroke-linecap="round"/><path d="M639.10 471.70L639.10 465.58" stroke="#a87a18" stroke-width="4.1" stroke-linecap="butt"/><path d="M639.45 471.35L639.45 465.23" stroke="#efbf3c" stroke-width="3.03" stroke-linecap="butt"/><path d="M662.14 422.38L654.60 420.00" stroke="#860000" stroke-width="4.1" stroke-linecap="round"/><path d="M662.49 422.03L654.95 419.65" stroke="#d81010" stroke-width="3.03" stroke-linecap="round"/><path d="M667.60 424.10L662.14 422.38" stroke="#a87a18" stroke-width="4.1" stroke-linecap="butt"/><path d="M667.95 423.75L662.49 422.03" stroke="#efbf3c" stroke-width="3.03" stroke-linecap="butt"/><path d="M671.80 422.38L677.60 420.00" stroke="#860000" stroke-width="4.1" stroke-linecap="round"/><path d="M672.15 422.03L677.95 419.65" stroke="#d81010" stroke-width="3.03" stroke-linecap="round"/><path d="M667.60 424.10L671.80 422.38" stroke="#a87a18" stroke-width="4.1" stroke-linecap="butt"/><path d="M667.95 423.75L672.15 422.03" stroke="#efbf3c" stroke-width="3.03" stroke-linecap="butt"/><path d="M668.69 421.83L670.20 418.70" stroke="#860000" stroke-width="4.1" stroke-linecap="round"/><path d="M669.04 421.48L670.55 418.35" stroke="#d81010" stroke-width="3.03" stroke-linecap="round"/><path d="M667.60 424.10L668.69 421.83" stroke="#a87a18" stroke-width="4.1" stroke-linecap="butt"/><path d="M667.95 423.75L669.04 421.48" stroke="#efbf3c" stroke-width="3.03" stroke-linecap="butt"/><path d="M667.60 430.40L667.60 438.10" stroke="#860000" stroke-width="4.1" stroke-linecap="round"/><path d="M667.95 430.05L667.95 437.75" stroke="#d81010" stroke-width="3.03" stroke-linecap="round"/><path d="M667.60 424.10L667.60 430.40" stroke="#a87a18" stroke-width="4.1" stroke-linecap="butt"/><path d="M667.95 423.75L667.95 430.05" stroke="#efbf3c" stroke-width="3.03" stroke-linecap="butt"/><path d="M667.20 474.22L674.45 477.70" stroke="#860000" stroke-width="4.1" stroke-linecap="round"/><path d="M667.55 473.87L674.80 477.35" stroke="#d81010" stroke-width="3.03" stroke-linecap="round"/><path d="M661.95 471.70L667.20 474.22" stroke="#a87a18" stroke-width="4.1" stroke-linecap="butt"/><path d="M662.30 471.35L667.55 473.87" stroke="#efbf3c" stroke-width="3.03" stroke-linecap="butt"/><path d="M657.75 474.22L651.95 477.70" stroke="#860000" stroke-width="4.1" stroke-linecap="round"/><path d="M658.10 473.87L652.30 477.35" stroke="#d81010" stroke-width="3.03" stroke-linecap="round"/><path d="M661.95 471.70L657.75 474.22" stroke="#a87a18" stroke-width="4.1" stroke-linecap="butt"/><path d="M662.30 471.35L658.10 473.87" stroke="#efbf3c" stroke-width="3.03" stroke-linecap="butt"/><path d="M660.69 474.30L658.95 477.90" stroke="#860000" stroke-width="4.1" stroke-linecap="round"/><path d="M661.04 473.95L659.30 477.55" stroke="#d81010" stroke-width="3.03" stroke-linecap="round"/><path d="M661.95 471.70L660.69 474.30" stroke="#a87a18" stroke-width="4.1" stroke-linecap="butt"/><path d="M662.30 471.35L661.04 473.95" stroke="#efbf3c" stroke-width="3.03" stroke-linecap="butt"/><path d="M661.95 465.58L661.95 458.10" stroke="#860000" stroke-width="4.1" stroke-linecap="round"/><path d="M662.30 465.23L662.30 457.75" stroke="#d81010" stroke-width="3.03" stroke-linecap="round"/><path d="M661.95 471.70L661.95 465.58" stroke="#a87a18" stroke-width="4.1" stroke-linecap="butt"/><path d="M662.30 471.35L662.30 465.23" stroke="#efbf3c" stroke-width="3.03" stroke-linecap="butt"/><path d="M684.99 422.38L677.45 420.00" stroke="#860000" stroke-width="4.1" stroke-linecap="round"/><path d="M685.34 422.03L677.80 419.65" stroke="#d81010" stroke-width="3.03" stroke-linecap="round"/><path d="M690.45 424.10L684.99 422.38" stroke="#a87a18" stroke-width="4.1" stroke-linecap="butt"/><path d="M690.80 423.75L685.34 422.03" stroke="#efbf3c" stroke-width="3.03" stroke-linecap="butt"/><path d="M694.65 422.38L700.45 420.00" stroke="#860000" stroke-width="4.1" stroke-linecap="round"/><path d="M695.00 422.03L700.80 419.65" stroke="#d81010" stroke-width="3.03" stroke-linecap="round"/><path d="M690.45 424.10L694.65 422.38" stroke="#a87a18" stroke-width="4.1" stroke-linecap="butt"/><path d="M690.80 423.75L695.00 422.03" stroke="#efbf3c" stroke-width="3.03" stroke-linecap="butt"/><path d="M691.54 421.83L693.05 418.70" stroke="#860000" stroke-width="4.1" stroke-linecap="round"/><path d="M691.89 421.48L693.40 418.35" stroke="#d81010" stroke-width="3.03" stroke-linecap="round"/><path d="M690.45 424.10L691.54 421.83" stroke="#a87a18" stroke-width="4.1" stroke-linecap="butt"/><path d="M690.80 423.75L691.89 421.48" stroke="#efbf3c" stroke-width="3.03" stroke-linecap="butt"/><path d="M690.45 430.40L690.45 438.10" stroke="#860000" stroke-width="4.1" stroke-linecap="round"/><path d="M690.80 430.05L690.80 437.75" stroke="#d81010" stroke-width="3.03" stroke-linecap="round"/><path d="M690.45 424.10L690.45 430.40" stroke="#a87a18" stroke-width="4.1" stroke-linecap="butt"/><path d="M690.80 423.75L690.80 430.05" stroke="#efbf3c" stroke-width="3.03" stroke-linecap="butt"/><path d="M690.05 474.22L697.30 477.70" stroke="#860000" stroke-width="4.1" stroke-linecap="round"/><path d="M690.40 473.87L697.65 477.35" stroke="#d81010" stroke-width="3.03" stroke-linecap="round"/><path d="M684.80 471.70L690.05 474.22" stroke="#a87a18" stroke-width="4.1" stroke-linecap="butt"/><path d="M685.15 471.35L690.40 473.87" stroke="#efbf3c" stroke-width="3.03" stroke-linecap="butt"/><path d="M680.60 474.22L674.80 477.70" stroke="#860000" stroke-width="4.1" stroke-linecap="round"/><path d="M680.95 473.87L675.15 477.35" stroke="#d81010" stroke-width="3.03" stroke-linecap="round"/><path d="M684.80 471.70L680.60 474.22" stroke="#a87a18" stroke-width="4.1" stroke-linecap="butt"/><path d="M685.15 471.35L680.95 473.87" stroke="#efbf3c" stroke-width="3.03" stroke-linecap="butt"/><path d="M683.54 474.30L681.80 477.90" stroke="#860000" stroke-width="4.1" stroke-linecap="round"/><path d="M683.89 473.95L682.15 477.55" stroke="#d81010" stroke-width="3.03" stroke-linecap="round"/><path d="M684.80 471.70L683.54 474.30" stroke="#a87a18" stroke-width="4.1" stroke-linecap="butt"/><path d="M685.15 471.35L683.89 473.95" stroke="#efbf3c" stroke-width="3.03" stroke-linecap="butt"/><path d="M684.80 465.58L684.80 458.10" stroke="#860000" stroke-width="4.1" stroke-linecap="round"/><path d="M685.15 465.23L685.15 457.75" stroke="#d81010" stroke-width="3.03" stroke-linecap="round"/><path d="M684.80 471.70L684.80 465.58" stroke="#a87a18" stroke-width="4.1" stroke-linecap="butt"/><path d="M685.15 471.35L685.15 465.23" stroke="#efbf3c" stroke-width="3.03" stroke-linecap="butt"/><path d="M707.84 422.38L700.30 420.00" stroke="#860000" stroke-width="4.1" stroke-linecap="round"/><path d="M708.19 422.03L700.65 419.65" stroke="#d81010" stroke-width="3.03" stroke-linecap="round"/><path d="M713.30 424.10L707.84 422.38" stroke="#a87a18" stroke-width="4.1" stroke-linecap="butt"/><path d="M713.65 423.75L708.19 422.03" stroke="#efbf3c" stroke-width="3.03" stroke-linecap="butt"/><path d="M717.50 422.38L723.30 420.00" stroke="#860000" stroke-width="4.1" stroke-linecap="round"/><path d="M717.85 422.03L723.65 419.65" stroke="#d81010" stroke-width="3.03" stroke-linecap="round"/><path d="M713.30 424.10L717.50 422.38" stroke="#a87a18" stroke-width="4.1" stroke-linecap="butt"/><path d="M713.65 423.75L717.85 422.03" stroke="#efbf3c" stroke-width="3.03" stroke-linecap="butt"/><path d="M714.39 421.83L715.90 418.70" stroke="#860000" stroke-width="4.1" stroke-linecap="round"/><path d="M714.74 421.48L716.25 418.35" stroke="#d81010" stroke-width="3.03" stroke-linecap="round"/><path d="M713.30 424.10L714.39 421.83" stroke="#a87a18" stroke-width="4.1" stroke-linecap="butt"/><path d="M713.65 423.75L714.74 421.48" stroke="#efbf3c" stroke-width="3.03" stroke-linecap="butt"/><path d="M713.30 430.40L713.30 438.10" stroke="#860000" stroke-width="4.1" stroke-linecap="round"/><path d="M713.65 430.05L713.65 437.75" stroke="#d81010" stroke-width="3.03" stroke-linecap="round"/><path d="M713.30 424.10L713.30 430.40" stroke="#a87a18" stroke-width="4.1" stroke-linecap="butt"/><path d="M713.65 423.75L713.65 430.05" stroke="#efbf3c" stroke-width="3.03" stroke-linecap="butt"/><path d="M712.90 474.22L720.15 477.70" stroke="#860000" stroke-width="4.1" stroke-linecap="round"/><path d="M713.25 473.87L720.50 477.35" stroke="#d81010" stroke-width="3.03" stroke-linecap="round"/><path d="M707.65 471.70L712.90 474.22" stroke="#a87a18" stroke-width="4.1" stroke-linecap="butt"/><path d="M708.00 471.35L713.25 473.87" stroke="#efbf3c" stroke-width="3.03" stroke-linecap="butt"/><path d="M703.45 474.22L697.65 477.70" stroke="#860000" stroke-width="4.1" stroke-linecap="round"/><path d="M703.80 473.87L698.00 477.35" stroke="#d81010" stroke-width="3.03" stroke-linecap="round"/><path d="M707.65 471.70L703.45 474.22" stroke="#a87a18" stroke-width="4.1" stroke-linecap="butt"/><path d="M708.00 471.35L703.80 473.87" stroke="#efbf3c" stroke-width="3.03" stroke-linecap="butt"/><path d="M706.39 474.30L704.65 477.90" stroke="#860000" stroke-width="4.1" stroke-linecap="round"/><path d="M706.74 473.95L705.00 477.55" stroke="#d81010" stroke-width="3.03" stroke-linecap="round"/><path d="M707.65 471.70L706.39 474.30" stroke="#a87a18" stroke-width="4.1" stroke-linecap="butt"/><path d="M708.00 471.35L706.74 473.95" stroke="#efbf3c" stroke-width="3.03" stroke-linecap="butt"/><path d="M707.65 465.58L707.65 458.10" stroke="#860000" stroke-width="4.1" stroke-linecap="round"/><path d="M708.00 465.23L708.00 457.75" stroke="#d81010" stroke-width="3.03" stroke-linecap="round"/><path d="M707.65 471.70L707.65 465.58" stroke="#a87a18" stroke-width="4.1" stroke-linecap="butt"/><path d="M708.00 471.35L708.00 465.23" stroke="#efbf3c" stroke-width="3.03" stroke-linecap="butt"/><path d="M730.69 422.38L723.15 420.00" stroke="#860000" stroke-width="4.1" stroke-linecap="round"/><path d="M731.04 422.03L723.50 419.65" stroke="#d81010" stroke-width="3.03" stroke-linecap="round"/><path d="M736.15 424.10L730.69 422.38" stroke="#a87a18" stroke-width="4.1" stroke-linecap="butt"/><path d="M736.50 423.75L731.04 422.03" stroke="#efbf3c" stroke-width="3.03" stroke-linecap="butt"/><path d="M740.35 422.38L746.15 420.00" stroke="#860000" stroke-width="4.1" stroke-linecap="round"/><path d="M740.70 422.03L746.50 419.65" stroke="#d81010" stroke-width="3.03" stroke-linecap="round"/><path d="M736.15 424.10L740.35 422.38" stroke="#a87a18" stroke-width="4.1" stroke-linecap="butt"/><path d="M736.50 423.75L740.70 422.03" stroke="#efbf3c" stroke-width="3.03" stroke-linecap="butt"/><path d="M737.24 421.83L738.75 418.70" stroke="#860000" stroke-width="4.1" stroke-linecap="round"/><path d="M737.59 421.48L739.10 418.35" stroke="#d81010" stroke-width="3.03" stroke-linecap="round"/><path d="M736.15 424.10L737.24 421.83" stroke="#a87a18" stroke-width="4.1" stroke-linecap="butt"/><path d="M736.50 423.75L737.59 421.48" stroke="#efbf3c" stroke-width="3.03" stroke-linecap="butt"/><path d="M736.15 430.40L736.15 438.10" stroke="#860000" stroke-width="4.1" stroke-linecap="round"/><path d="M736.50 430.05L736.50 437.75" stroke="#d81010" stroke-width="3.03" stroke-linecap="round"/><path d="M736.15 424.10L736.15 430.40" stroke="#a87a18" stroke-width="4.1" stroke-linecap="butt"/><path d="M736.50 423.75L736.50 430.05" stroke="#efbf3c" stroke-width="3.03" stroke-linecap="butt"/><path d="M735.75 474.22L743.00 477.70" stroke="#860000" stroke-width="4.1" stroke-linecap="round"/><path d="M736.10 473.87L743.35 477.35" stroke="#d81010" stroke-width="3.03" stroke-linecap="round"/><path d="M730.50 471.70L735.75 474.22" stroke="#a87a18" stroke-width="4.1" stroke-linecap="butt"/><path d="M730.85 471.35L736.10 473.87" stroke="#efbf3c" stroke-width="3.03" stroke-linecap="butt"/><path d="M726.30 474.22L720.50 477.70" stroke="#860000" stroke-width="4.1" stroke-linecap="round"/><path d="M726.65 473.87L720.85 477.35" stroke="#d81010" stroke-width="3.03" stroke-linecap="round"/><path d="M730.50 471.70L726.30 474.22" stroke="#a87a18" stroke-width="4.1" stroke-linecap="butt"/><path d="M730.85 471.35L726.65 473.87" stroke="#efbf3c" stroke-width="3.03" stroke-linecap="butt"/><path d="M729.24 474.30L727.50 477.90" stroke="#860000" stroke-width="4.1" stroke-linecap="round"/><path d="M729.59 473.95L727.85 477.55" stroke="#d81010" stroke-width="3.03" stroke-linecap="round"/><path d="M730.50 471.70L729.24 474.30" stroke="#a87a18" stroke-width="4.1" stroke-linecap="butt"/><path d="M730.85 471.35L729.59 473.95" stroke="#efbf3c" stroke-width="3.03" stroke-linecap="butt"/><path d="M730.50 465.58L730.50 458.10" stroke="#860000" stroke-width="4.1" stroke-linecap="round"/><path d="M730.85 465.23L730.85 457.75" stroke="#d81010" stroke-width="3.03" stroke-linecap="round"/><path d="M730.50 471.70L730.50 465.58" stroke="#a87a18" stroke-width="4.1" stroke-linecap="butt"/><path d="M730.85 471.35L730.85 465.23" stroke="#efbf3c" stroke-width="3.03" stroke-linecap="butt"/><path d="M753.54 422.38L746.00 420.00" stroke="#860000" stroke-width="4.1" stroke-linecap="round"/><path d="M753.89 422.03L746.35 419.65" stroke="#d81010" stroke-width="3.03" stroke-linecap="round"/><path d="M759.00 424.10L753.54 422.38" stroke="#a87a18" stroke-width="4.1" stroke-linecap="butt"/><path d="M759.35 423.75L753.89 422.03" stroke="#efbf3c" stroke-width="3.03" stroke-linecap="butt"/><path d="M763.20 422.38L769.00 420.00" stroke="#860000" stroke-width="4.1" stroke-linecap="round"/><path d="M763.55 422.03L769.35 419.65" stroke="#d81010" stroke-width="3.03" stroke-linecap="round"/><path d="M759.00 424.10L763.20 422.38" stroke="#a87a18" stroke-width="4.1" stroke-linecap="butt"/><path d="M759.35 423.75L763.55 422.03" stroke="#efbf3c" stroke-width="3.03" stroke-linecap="butt"/><path d="M760.09 421.83L761.60 418.70" stroke="#860000" stroke-width="4.1" stroke-linecap="round"/><path d="M760.44 421.48L761.95 418.35" stroke="#d81010" stroke-width="3.03" stroke-linecap="round"/><path d="M759.00 424.10L760.09 421.83" stroke="#a87a18" stroke-width="4.1" stroke-linecap="butt"/><path d="M759.35 423.75L760.44 421.48" stroke="#efbf3c" stroke-width="3.03" stroke-linecap="butt"/><path d="M759.00 430.40L759.00 438.10" stroke="#860000" stroke-width="4.1" stroke-linecap="round"/><path d="M759.35 430.05L759.35 437.75" stroke="#d81010" stroke-width="3.03" stroke-linecap="round"/><path d="M759.00 424.10L759.00 430.40" stroke="#a87a18" stroke-width="4.1" stroke-linecap="butt"/><path d="M759.35 423.75L759.35 430.05" stroke="#efbf3c" stroke-width="3.03" stroke-linecap="butt"/><path d="M758.60 474.22L765.85 477.70" stroke="#860000" stroke-width="4.1" stroke-linecap="round"/><path d="M758.95 473.87L766.20 477.35" stroke="#d81010" stroke-width="3.03" stroke-linecap="round"/><path d="M753.35 471.70L758.60 474.22" stroke="#a87a18" stroke-width="4.1" stroke-linecap="butt"/><path d="M753.70 471.35L758.95 473.87" stroke="#efbf3c" stroke-width="3.03" stroke-linecap="butt"/><path d="M749.15 474.22L743.35 477.70" stroke="#860000" stroke-width="4.1" stroke-linecap="round"/><path d="M749.50 473.87L743.70 477.35" stroke="#d81010" stroke-width="3.03" stroke-linecap="round"/><path d="M753.35 471.70L749.15 474.22" stroke="#a87a18" stroke-width="4.1" stroke-linecap="butt"/><path d="M753.70 471.35L749.50 473.87" stroke="#efbf3c" stroke-width="3.03" stroke-linecap="butt"/><path d="M752.09 474.30L750.35 477.90" stroke="#860000" stroke-width="4.1" stroke-linecap="round"/><path d="M752.44 473.95L750.70 477.55" stroke="#d81010" stroke-width="3.03" stroke-linecap="round"/><path d="M753.35 471.70L752.09 474.30" stroke="#a87a18" stroke-width="4.1" stroke-linecap="butt"/><path d="M753.70 471.35L752.44 473.95" stroke="#efbf3c" stroke-width="3.03" stroke-linecap="butt"/><path d="M753.35 465.58L753.35 458.10" stroke="#860000" stroke-width="4.1" stroke-linecap="round"/><path d="M753.70 465.23L753.70 457.75" stroke="#d81010" stroke-width="3.03" stroke-linecap="round"/><path d="M753.35 471.70L753.35 465.58" stroke="#a87a18" stroke-width="4.1" stroke-linecap="butt"/><path d="M753.70 471.35L753.70 465.23" stroke="#efbf3c" stroke-width="3.03" stroke-linecap="butt"/><path d="M776.39 422.38L768.85 420.00" stroke="#860000" stroke-width="4.1" stroke-linecap="round"/><path d="M776.74 422.03L769.20 419.65" stroke="#d81010" stroke-width="3.03" stroke-linecap="round"/><path d="M781.85 424.10L776.39 422.38" stroke="#a87a18" stroke-width="4.1" stroke-linecap="butt"/><path d="M782.20 423.75L776.74 422.03" stroke="#efbf3c" stroke-width="3.03" stroke-linecap="butt"/><path d="M782.94 421.83L784.45 418.70" stroke="#860000" stroke-width="4.1" stroke-linecap="round"/><path d="M783.29 421.48L784.80 418.35" stroke="#d81010" stroke-width="3.03" stroke-linecap="round"/><path d="M781.85 424.10L782.94 421.83" stroke="#a87a18" stroke-width="4.1" stroke-linecap="butt"/><path d="M782.20 423.75L783.29 421.48" stroke="#efbf3c" stroke-width="3.03" stroke-linecap="butt"/><path d="M781.85 430.40L781.85 438.10" stroke="#860000" stroke-width="4.1" stroke-linecap="round"/><path d="M782.20 430.05L782.20 437.75" stroke="#d81010" stroke-width="3.03" stroke-linecap="round"/><path d="M781.85 424.10L781.85 430.40" stroke="#a87a18" stroke-width="4.1" stroke-linecap="butt"/><path d="M782.20 423.75L782.20 430.05" stroke="#efbf3c" stroke-width="3.03" stroke-linecap="butt"/><path d="M781.45 474.22L788.70 477.70" stroke="#860000" stroke-width="4.1" stroke-linecap="round"/><path d="M781.80 473.87L789.05 477.35" stroke="#d81010" stroke-width="3.03" stroke-linecap="round"/><path d="M776.20 471.70L781.45 474.22" stroke="#a87a18" stroke-width="4.1" stroke-linecap="butt"/><path d="M776.55 471.35L781.80 473.87" stroke="#efbf3c" stroke-width="3.03" stroke-linecap="butt"/><path d="M772.00 474.22L766.20 477.70" stroke="#860000" stroke-width="4.1" stroke-linecap="round"/><path d="M772.35 473.87L766.55 477.35" stroke="#d81010" stroke-width="3.03" stroke-linecap="round"/><path d="M776.20 471.70L772.00 474.22" stroke="#a87a18" stroke-width="4.1" stroke-linecap="butt"/><path d="M776.55 471.35L772.35 473.87" stroke="#efbf3c" stroke-width="3.03" stroke-linecap="butt"/><path d="M783.55 473.55L793.70 476.10" stroke="#860000" stroke-width="4.1" stroke-linecap="round"/><path d="M783.90 473.20L794.05 475.75" stroke="#d81010" stroke-width="3.03" stroke-linecap="round"/><path d="M776.20 471.70L783.55 473.55" stroke="#a87a18" stroke-width="4.1" stroke-linecap="butt"/><path d="M776.55 471.35L783.90 473.20" stroke="#efbf3c" stroke-width="3.03" stroke-linecap="butt"/><path d="M774.94 474.30L773.20 477.90" stroke="#860000" stroke-width="4.1" stroke-linecap="round"/><path d="M775.29 473.95L773.55 477.55" stroke="#d81010" stroke-width="3.03" stroke-linecap="round"/><path d="M776.20 471.70L774.94 474.30" stroke="#a87a18" stroke-width="4.1" stroke-linecap="butt"/><path d="M776.55 471.35L775.29 473.95" stroke="#efbf3c" stroke-width="3.03" stroke-linecap="butt"/><path d="M776.20 465.58L776.20 458.10" stroke="#860000" stroke-width="4.1" stroke-linecap="round"/><path d="M776.55 465.23L776.55 457.75" stroke="#d81010" stroke-width="3.03" stroke-linecap="round"/><path d="M776.20 471.70L776.20 465.58" stroke="#a87a18" stroke-width="4.1" stroke-linecap="butt"/><path d="M776.55 471.35L776.55 465.23" stroke="#efbf3c" stroke-width="3.03" stroke-linecap="butt"/><path d="M607.50 448.10L604.80 444.90" stroke="#8a3a86" stroke-width="4.1" stroke-linecap="butt"/><path d="M607.85 447.75L605.15 444.55" stroke="#dc68d4" stroke-width="3.03" stroke-linecap="butt"/><path d="M613.55 443.90L621.90 438.10" stroke="#860000" stroke-width="4.1" stroke-linecap="round"/><path d="M613.90 443.55L622.25 437.75" stroke="#d81010" stroke-width="3.03" stroke-linecap="round"/><path d="M607.50 448.10L613.55 443.90" stroke="#8a3a86" stroke-width="4.1" stroke-linecap="butt"/><path d="M607.85 447.75L613.90 443.55" stroke="#dc68d4" stroke-width="3.03" stroke-linecap="butt"/><path d="M607.50 448.10L601.58 452.30" stroke="#8a3a86" stroke-width="4.1" stroke-linecap="butt"/><path d="M607.85 447.75L601.93 451.95" stroke="#dc68d4" stroke-width="3.03" stroke-linecap="butt"/><path d="M610.30 451.30L616.25 458.10" stroke="#860000" stroke-width="4.1" stroke-linecap="round"/><path d="M610.65 450.95L616.60 457.75" stroke="#d81010" stroke-width="3.03" stroke-linecap="round"/><path d="M607.50 448.10L610.30 451.30" stroke="#8a3a86" stroke-width="4.1" stroke-linecap="butt"/><path d="M607.85 447.75L610.65 450.95" stroke="#dc68d4" stroke-width="3.03" stroke-linecap="butt"/><path d="M627.65 444.90L621.90 438.10" stroke="#860000" stroke-width="4.1" stroke-linecap="round"/><path d="M628.00 444.55L622.25 437.75" stroke="#d81010" stroke-width="3.03" stroke-linecap="round"/><path d="M630.35 448.10L627.65 444.90" stroke="#8a3a86" stroke-width="4.1" stroke-linecap="butt"/><path d="M630.70 447.75L628.00 444.55" stroke="#dc68d4" stroke-width="3.03" stroke-linecap="butt"/><path d="M636.40 443.90L644.75 438.10" stroke="#860000" stroke-width="4.1" stroke-linecap="round"/><path d="M636.75 443.55L645.10 437.75" stroke="#d81010" stroke-width="3.03" stroke-linecap="round"/><path d="M630.35 448.10L636.40 443.90" stroke="#8a3a86" stroke-width="4.1" stroke-linecap="butt"/><path d="M630.70 447.75L636.75 443.55" stroke="#dc68d4" stroke-width="3.03" stroke-linecap="butt"/><path d="M624.43 452.30L616.25 458.10" stroke="#860000" stroke-width="4.1" stroke-linecap="round"/><path d="M624.78 451.95L616.60 457.75" stroke="#d81010" stroke-width="3.03" stroke-linecap="round"/><path d="M630.35 448.10L624.43 452.30" stroke="#8a3a86" stroke-width="4.1" stroke-linecap="butt"/><path d="M630.70 447.75L624.78 451.95" stroke="#dc68d4" stroke-width="3.03" stroke-linecap="butt"/><path d="M633.15 451.30L639.10 458.10" stroke="#860000" stroke-width="4.1" stroke-linecap="round"/><path d="M633.50 450.95L639.45 457.75" stroke="#d81010" stroke-width="3.03" stroke-linecap="round"/><path d="M630.35 448.10L633.15 451.30" stroke="#8a3a86" stroke-width="4.1" stroke-linecap="butt"/><path d="M630.70 447.75L633.50 450.95" stroke="#dc68d4" stroke-width="3.03" stroke-linecap="butt"/><path d="M650.50 444.90L644.75 438.10" stroke="#860000" stroke-width="4.1" stroke-linecap="round"/><path d="M650.85 444.55L645.10 437.75" stroke="#d81010" stroke-width="3.03" stroke-linecap="round"/><path d="M653.20 448.10L650.50 444.90" stroke="#3a7a08" stroke-width="4.1" stroke-linecap="butt"/><path d="M653.55 447.75L650.85 444.55" stroke="#66cc11" stroke-width="3.03" stroke-linecap="butt"/><path d="M659.25 443.90L667.60 438.10" stroke="#860000" stroke-width="4.1" stroke-linecap="round"/><path d="M659.60 443.55L667.95 437.75" stroke="#d81010" stroke-width="3.03" stroke-linecap="round"/><path d="M653.20 448.10L659.25 443.90" stroke="#3a7a08" stroke-width="4.1" stroke-linecap="butt"/><path d="M653.55 447.75L659.60 443.55" stroke="#66cc11" stroke-width="3.03" stroke-linecap="butt"/><path d="M647.28 452.30L639.10 458.10" stroke="#860000" stroke-width="4.1" stroke-linecap="round"/><path d="M647.63 451.95L639.45 457.75" stroke="#d81010" stroke-width="3.03" stroke-linecap="round"/><path d="M653.20 448.10L647.28 452.30" stroke="#3a7a08" stroke-width="4.1" stroke-linecap="butt"/><path d="M653.55 447.75L647.63 451.95" stroke="#66cc11" stroke-width="3.03" stroke-linecap="butt"/><path d="M656.00 451.30L661.95 458.10" stroke="#860000" stroke-width="4.1" stroke-linecap="round"/><path d="M656.35 450.95L662.30 457.75" stroke="#d81010" stroke-width="3.03" stroke-linecap="round"/><path d="M653.20 448.10L656.00 451.30" stroke="#3a7a08" stroke-width="4.1" stroke-linecap="butt"/><path d="M653.55 447.75L656.35 450.95" stroke="#66cc11" stroke-width="3.03" stroke-linecap="butt"/><path d="M673.35 444.90L667.60 438.10" stroke="#860000" stroke-width="4.1" stroke-linecap="round"/><path d="M673.70 444.55L667.95 437.75" stroke="#d81010" stroke-width="3.03" stroke-linecap="round"/><path d="M676.05 448.10L673.35 444.90" stroke="#8a3a86" stroke-width="4.1" stroke-linecap="butt"/><path d="M676.40 447.75L673.70 444.55" stroke="#dc68d4" stroke-width="3.03" stroke-linecap="butt"/><path d="M682.10 443.90L690.45 438.10" stroke="#860000" stroke-width="4.1" stroke-linecap="round"/><path d="M682.45 443.55L690.80 437.75" stroke="#d81010" stroke-width="3.03" stroke-linecap="round"/><path d="M676.05 448.10L682.10 443.90" stroke="#8a3a86" stroke-width="4.1" stroke-linecap="butt"/><path d="M676.40 447.75L682.45 443.55" stroke="#dc68d4" stroke-width="3.03" stroke-linecap="butt"/><path d="M670.13 452.30L661.95 458.10" stroke="#860000" stroke-width="4.1" stroke-linecap="round"/><path d="M670.48 451.95L662.30 457.75" stroke="#d81010" stroke-width="3.03" stroke-linecap="round"/><path d="M676.05 448.10L670.13 452.30" stroke="#8a3a86" stroke-width="4.1" stroke-linecap="butt"/><path d="M676.40 447.75L670.48 451.95" stroke="#dc68d4" stroke-width="3.03" stroke-linecap="butt"/><path d="M678.85 451.30L684.80 458.10" stroke="#860000" stroke-width="4.1" stroke-linecap="round"/><path d="M679.20 450.95L685.15 457.75" stroke="#d81010" stroke-width="3.03" stroke-linecap="round"/><path d="M676.05 448.10L678.85 451.30" stroke="#8a3a86" stroke-width="4.1" stroke-linecap="butt"/><path d="M676.40 447.75L679.20 450.95" stroke="#dc68d4" stroke-width="3.03" stroke-linecap="butt"/><path d="M696.20 444.90L690.45 438.10" stroke="#860000" stroke-width="4.1" stroke-linecap="round"/><path d="M696.55 444.55L690.80 437.75" stroke="#d81010" stroke-width="3.03" stroke-linecap="round"/><path d="M698.90 448.10L696.20 444.90" stroke="#8a3a86" stroke-width="4.1" stroke-linecap="butt"/><path d="M699.25 447.75L696.55 444.55" stroke="#dc68d4" stroke-width="3.03" stroke-linecap="butt"/><path d="M704.95 443.90L713.30 438.10" stroke="#860000" stroke-width="4.1" stroke-linecap="round"/><path d="M705.30 443.55L713.65 437.75" stroke="#d81010" stroke-width="3.03" stroke-linecap="round"/><path d="M698.90 448.10L704.95 443.90" stroke="#8a3a86" stroke-width="4.1" stroke-linecap="butt"/><path d="M699.25 447.75L705.30 443.55" stroke="#dc68d4" stroke-width="3.03" stroke-linecap="butt"/><path d="M692.98 452.30L684.80 458.10" stroke="#860000" stroke-width="4.1" stroke-linecap="round"/><path d="M693.33 451.95L685.15 457.75" stroke="#d81010" stroke-width="3.03" stroke-linecap="round"/><path d="M698.90 448.10L692.98 452.30" stroke="#8a3a86" stroke-width="4.1" stroke-linecap="butt"/><path d="M699.25 447.75L693.33 451.95" stroke="#dc68d4" stroke-width="3.03" stroke-linecap="butt"/><path d="M701.70 451.30L707.65 458.10" stroke="#860000" stroke-width="4.1" stroke-linecap="round"/><path d="M702.05 450.95L708.00 457.75" stroke="#d81010" stroke-width="3.03" stroke-linecap="round"/><path d="M698.90 448.10L701.70 451.30" stroke="#8a3a86" stroke-width="4.1" stroke-linecap="butt"/><path d="M699.25 447.75L702.05 450.95" stroke="#dc68d4" stroke-width="3.03" stroke-linecap="butt"/><path d="M719.05 444.90L713.30 438.10" stroke="#860000" stroke-width="4.1" stroke-linecap="round"/><path d="M719.40 444.55L713.65 437.75" stroke="#d81010" stroke-width="3.03" stroke-linecap="round"/><path d="M721.75 448.10L719.05 444.90" stroke="#8a3a86" stroke-width="4.1" stroke-linecap="butt"/><path d="M722.10 447.75L719.40 444.55" stroke="#dc68d4" stroke-width="3.03" stroke-linecap="butt"/><path d="M727.80 443.90L736.15 438.10" stroke="#860000" stroke-width="4.1" stroke-linecap="round"/><path d="M728.15 443.55L736.50 437.75" stroke="#d81010" stroke-width="3.03" stroke-linecap="round"/><path d="M721.75 448.10L727.80 443.90" stroke="#8a3a86" stroke-width="4.1" stroke-linecap="butt"/><path d="M722.10 447.75L728.15 443.55" stroke="#dc68d4" stroke-width="3.03" stroke-linecap="butt"/><path d="M715.83 452.30L707.65 458.10" stroke="#860000" stroke-width="4.1" stroke-linecap="round"/><path d="M716.18 451.95L708.00 457.75" stroke="#d81010" stroke-width="3.03" stroke-linecap="round"/><path d="M721.75 448.10L715.83 452.30" stroke="#8a3a86" stroke-width="4.1" stroke-linecap="butt"/><path d="M722.10 447.75L716.18 451.95" stroke="#dc68d4" stroke-width="3.03" stroke-linecap="butt"/><path d="M724.55 451.30L730.50 458.10" stroke="#860000" stroke-width="4.1" stroke-linecap="round"/><path d="M724.90 450.95L730.85 457.75" stroke="#d81010" stroke-width="3.03" stroke-linecap="round"/><path d="M721.75 448.10L724.55 451.30" stroke="#8a3a86" stroke-width="4.1" stroke-linecap="butt"/><path d="M722.10 447.75L724.90 450.95" stroke="#dc68d4" stroke-width="3.03" stroke-linecap="butt"/><path d="M741.90 444.90L736.15 438.10" stroke="#860000" stroke-width="4.1" stroke-linecap="round"/><path d="M742.25 444.55L736.50 437.75" stroke="#d81010" stroke-width="3.03" stroke-linecap="round"/><path d="M744.60 448.10L741.90 444.90" stroke="#8a3a86" stroke-width="4.1" stroke-linecap="butt"/><path d="M744.95 447.75L742.25 444.55" stroke="#dc68d4" stroke-width="3.03" stroke-linecap="butt"/><path d="M750.65 443.90L759.00 438.10" stroke="#860000" stroke-width="4.1" stroke-linecap="round"/><path d="M751.00 443.55L759.35 437.75" stroke="#d81010" stroke-width="3.03" stroke-linecap="round"/><path d="M744.60 448.10L750.65 443.90" stroke="#8a3a86" stroke-width="4.1" stroke-linecap="butt"/><path d="M744.95 447.75L751.00 443.55" stroke="#dc68d4" stroke-width="3.03" stroke-linecap="butt"/><path d="M738.68 452.30L730.50 458.10" stroke="#860000" stroke-width="4.1" stroke-linecap="round"/><path d="M739.03 451.95L730.85 457.75" stroke="#d81010" stroke-width="3.03" stroke-linecap="round"/><path d="M744.60 448.10L738.68 452.30" stroke="#8a3a86" stroke-width="4.1" stroke-linecap="butt"/><path d="M744.95 447.75L739.03 451.95" stroke="#dc68d4" stroke-width="3.03" stroke-linecap="butt"/><path d="M747.40 451.30L753.35 458.10" stroke="#860000" stroke-width="4.1" stroke-linecap="round"/><path d="M747.75 450.95L753.70 457.75" stroke="#d81010" stroke-width="3.03" stroke-linecap="round"/><path d="M744.60 448.10L747.40 451.30" stroke="#8a3a86" stroke-width="4.1" stroke-linecap="butt"/><path d="M744.95 447.75L747.75 450.95" stroke="#dc68d4" stroke-width="3.03" stroke-linecap="butt"/><path d="M764.75 444.90L759.00 438.10" stroke="#860000" stroke-width="4.1" stroke-linecap="round"/><path d="M765.10 444.55L759.35 437.75" stroke="#d81010" stroke-width="3.03" stroke-linecap="round"/><path d="M767.45 448.10L764.75 444.90" stroke="#8a3a86" stroke-width="4.1" stroke-linecap="butt"/><path d="M767.80 447.75L765.10 444.55" stroke="#dc68d4" stroke-width="3.03" stroke-linecap="butt"/><path d="M773.50 443.90L781.85 438.10" stroke="#860000" stroke-width="4.1" stroke-linecap="round"/><path d="M773.85 443.55L782.20 437.75" stroke="#d81010" stroke-width="3.03" stroke-linecap="round"/><path d="M767.45 448.10L773.50 443.90" stroke="#8a3a86" stroke-width="4.1" stroke-linecap="butt"/><path d="M767.80 447.75L773.85 443.55" stroke="#dc68d4" stroke-width="3.03" stroke-linecap="butt"/><path d="M761.53 452.30L753.35 458.10" stroke="#860000" stroke-width="4.1" stroke-linecap="round"/><path d="M761.88 451.95L753.70 457.75" stroke="#d81010" stroke-width="3.03" stroke-linecap="round"/><path d="M767.45 448.10L761.53 452.30" stroke="#8a3a86" stroke-width="4.1" stroke-linecap="butt"/><path d="M767.80 447.75L761.88 451.95" stroke="#dc68d4" stroke-width="3.03" stroke-linecap="butt"/><path d="M770.25 451.30L776.20 458.10" stroke="#860000" stroke-width="4.1" stroke-linecap="round"/><path d="M770.60 450.95L776.55 457.75" stroke="#d81010" stroke-width="3.03" stroke-linecap="round"/><path d="M767.45 448.10L770.25 451.30" stroke="#8a3a86" stroke-width="4.1" stroke-linecap="butt"/><path d="M767.80 447.75L770.60 450.95" stroke="#dc68d4" stroke-width="3.03" stroke-linecap="butt"/><path d="M787.60 444.90L781.85 438.10" stroke="#860000" stroke-width="4.1" stroke-linecap="round"/><path d="M787.95 444.55L782.20 437.75" stroke="#d81010" stroke-width="3.03" stroke-linecap="round"/><path d="M790.30 448.10L787.60 444.90" stroke="#8a3a86" stroke-width="4.1" stroke-linecap="butt"/><path d="M790.65 447.75L787.95 444.55" stroke="#dc68d4" stroke-width="3.03" stroke-linecap="butt"/><path d="M790.30 448.10L796.35 443.90" stroke="#8a3a86" stroke-width="4.1" stroke-linecap="butt"/><path d="M790.65 447.75L796.70 443.55" stroke="#dc68d4" stroke-width="3.03" stroke-linecap="butt"/><path d="M784.38 452.30L776.20 458.10" stroke="#860000" stroke-width="4.1" stroke-linecap="round"/><path d="M784.73 451.95L776.55 457.75" stroke="#d81010" stroke-width="3.03" stroke-linecap="round"/><path d="M790.30 448.10L784.38 452.30" stroke="#8a3a86" stroke-width="4.1" stroke-linecap="butt"/><path d="M790.65 447.75L784.73 451.95" stroke="#dc68d4" stroke-width="3.03" stroke-linecap="butt"/><path d="M790.30 448.10L793.10 451.30" stroke="#8a3a86" stroke-width="4.1" stroke-linecap="butt"/><path d="M790.65 447.75L793.45 450.95" stroke="#dc68d4" stroke-width="3.03" stroke-linecap="butt"/><circle cx="621.90" cy="424.10" r="2.9" fill="url(#gS)"/><circle cx="616.25" cy="471.70" r="2.9" fill="url(#gS)"/><circle cx="644.75" cy="424.10" r="2.9" fill="url(#gS)"/><circle cx="639.10" cy="471.70" r="2.9" fill="url(#gS)"/><circle cx="667.60" cy="424.10" r="2.9" fill="url(#gS)"/><circle cx="661.95" cy="471.70" r="2.9" fill="url(#gS)"/><circle cx="690.45" cy="424.10" r="2.9" fill="url(#gS)"/><circle cx="684.80" cy="471.70" r="2.9" fill="url(#gS)"/><circle cx="713.30" cy="424.10" r="2.9" fill="url(#gS)"/><circle cx="707.65" cy="471.70" r="2.9" fill="url(#gS)"/><circle cx="736.15" cy="424.10" r="2.9" fill="url(#gS)"/><circle cx="730.50" cy="471.70" r="2.9" fill="url(#gS)"/><circle cx="759.00" cy="424.10" r="2.9" fill="url(#gS)"/><circle cx="753.35" cy="471.70" r="2.9" fill="url(#gS)"/><circle cx="781.85" cy="424.10" r="2.9" fill="url(#gS)"/><circle cx="776.20" cy="471.70" r="2.9" fill="url(#gS)"/><circle cx="607.50" cy="448.10" r="2.3" fill="#dc68d4"/><circle cx="630.35" cy="448.10" r="2.3" fill="#dc68d4"/><circle cx="653.20" cy="448.10" r="2.3" fill="#66cc11"/><circle cx="676.05" cy="448.10" r="2.3" fill="#dc68d4"/><circle cx="698.90" cy="448.10" r="2.3" fill="#dc68d4"/><circle cx="721.75" cy="448.10" r="2.3" fill="#dc68d4"/><circle cx="744.60" cy="448.10" r="2.3" fill="#dc68d4"/><circle cx="767.45" cy="448.10" r="2.3" fill="#dc68d4"/><circle cx="790.30" cy="448.10" r="2.3" fill="#dc68d4"/><circle cx="628.15" cy="434.65" r="3.7" fill="#141414"/><circle cx="628.95" cy="433.85" r="3.25" fill="url(#gH)"/><circle cx="631.30" cy="464.45" r="3.7" fill="#141414"/><circle cx="632.10" cy="463.65" r="3.25" fill="url(#gH)"/><circle cx="651.00" cy="434.65" r="3.7" fill="#141414"/><circle cx="651.80" cy="433.85" r="3.25" fill="url(#gH)"/><circle cx="654.15" cy="464.45" r="3.7" fill="#141414"/><circle cx="654.95" cy="463.65" r="3.25" fill="url(#gH)"/><circle cx="673.85" cy="434.65" r="3.7" fill="#141414"/><circle cx="674.65" cy="433.85" r="3.25" fill="url(#gH)"/><circle cx="677.00" cy="464.45" r="3.7" fill="#141414"/><circle cx="677.80" cy="463.65" r="3.25" fill="url(#gH)"/><circle cx="696.70" cy="434.65" r="3.7" fill="#141414"/><circle cx="697.50" cy="433.85" r="3.25" fill="url(#gH)"/><circle cx="699.85" cy="464.45" r="3.7" fill="#141414"/><circle cx="700.65" cy="463.65" r="3.25" fill="url(#gH)"/><circle cx="719.55" cy="434.65" r="3.7" fill="#141414"/><circle cx="720.35" cy="433.85" r="3.25" fill="url(#gH)"/><circle cx="722.70" cy="464.45" r="3.7" fill="#141414"/><circle cx="723.50" cy="463.65" r="3.25" fill="url(#gH)"/><circle cx="742.40" cy="434.65" r="3.7" fill="#141414"/><circle cx="743.20" cy="433.85" r="3.25" fill="url(#gH)"/><circle cx="745.55" cy="464.45" r="3.7" fill="#141414"/><circle cx="746.35" cy="463.65" r="3.25" fill="url(#gH)"/><circle cx="765.25" cy="434.65" r="3.7" fill="#141414"/><circle cx="766.05" cy="433.85" r="3.25" fill="url(#gH)"/><circle cx="768.40" cy="464.45" r="3.7" fill="#141414"/><circle cx="769.20" cy="463.65" r="3.25" fill="url(#gH)"/><circle cx="791.25" cy="464.45" r="3.7" fill="#141414"/><circle cx="792.05" cy="463.65" r="3.25" fill="url(#gH)"/><circle cx="605.35" cy="434.95" r="3.7" fill="#141414"/><circle cx="606.15" cy="434.15" r="3.25" fill="url(#gH)"/><circle cx="608.90" cy="420.00" r="3.6" fill="url(#gO)"/><circle cx="631.90" cy="420.00" r="3.6" fill="url(#gO)"/><circle cx="624.50" cy="418.50" r="3.6" fill="url(#gO)"/><circle cx="621.90" cy="438.10" r="3.8" fill="url(#gO)"/><circle cx="628.75" cy="477.70" r="3.6" fill="url(#gO)"/><circle cx="613.25" cy="478.30" r="3.7" fill="url(#gO)"/><circle cx="616.25" cy="458.10" r="3.8" fill="url(#gO)"/><circle cx="631.75" cy="420.00" r="3.6" fill="url(#gO)"/><circle cx="654.75" cy="420.00" r="3.6" fill="url(#gO)"/><circle cx="647.35" cy="418.50" r="3.6" fill="url(#gO)"/><circle cx="644.75" cy="438.10" r="3.8" fill="url(#gO)"/><circle cx="651.60" cy="477.70" r="3.6" fill="url(#gO)"/><circle cx="629.10" cy="477.70" r="3.6" fill="url(#gO)"/><circle cx="636.10" cy="478.30" r="3.7" fill="url(#gO)"/><circle cx="639.10" cy="458.10" r="3.8" fill="url(#gO)"/><circle cx="654.60" cy="420.00" r="3.6" fill="url(#gO)"/><circle cx="677.60" cy="420.00" r="3.6" fill="url(#gO)"/><circle cx="670.20" cy="418.50" r="3.6" fill="url(#gO)"/><circle cx="667.60" cy="438.10" r="3.8" fill="url(#gO)"/><circle cx="674.45" cy="477.70" r="3.6" fill="url(#gO)"/><circle cx="651.95" cy="477.70" r="3.6" fill="url(#gO)"/><circle cx="658.95" cy="478.30" r="3.7" fill="url(#gO)"/><circle cx="661.95" cy="458.10" r="3.8" fill="url(#gO)"/><circle cx="677.45" cy="420.00" r="3.6" fill="url(#gO)"/><circle cx="700.45" cy="420.00" r="3.6" fill="url(#gO)"/><circle cx="693.05" cy="418.50" r="3.6" fill="url(#gO)"/><circle cx="690.45" cy="438.10" r="3.8" fill="url(#gO)"/><circle cx="697.30" cy="477.70" r="3.6" fill="url(#gO)"/><circle cx="674.80" cy="477.70" r="3.6" fill="url(#gO)"/><circle cx="681.80" cy="478.30" r="3.7" fill="url(#gO)"/><circle cx="684.80" cy="458.10" r="3.8" fill="url(#gO)"/><circle cx="700.30" cy="420.00" r="3.6" fill="url(#gO)"/><circle cx="723.30" cy="420.00" r="3.6" fill="url(#gO)"/><circle cx="715.90" cy="418.50" r="3.6" fill="url(#gO)"/><circle cx="713.30" cy="438.10" r="3.8" fill="url(#gO)"/><circle cx="720.15" cy="477.70" r="3.6" fill="url(#gO)"/><circle cx="697.65" cy="477.70" r="3.6" fill="url(#gO)"/><circle cx="704.65" cy="478.30" r="3.7" fill="url(#gO)"/><circle cx="707.65" cy="458.10" r="3.8" fill="url(#gO)"/><circle cx="723.15" cy="420.00" r="3.6" fill="url(#gO)"/><circle cx="746.15" cy="420.00" r="3.6" fill="url(#gO)"/><circle cx="738.75" cy="418.50" r="3.6" fill="url(#gO)"/><circle cx="736.15" cy="438.10" r="3.8" fill="url(#gO)"/><circle cx="743.00" cy="477.70" r="3.6" fill="url(#gO)"/><circle cx="720.50" cy="477.70" r="3.6" fill="url(#gO)"/><circle cx="727.50" cy="478.30" r="3.7" fill="url(#gO)"/><circle cx="730.50" cy="458.10" r="3.8" fill="url(#gO)"/><circle cx="746.00" cy="420.00" r="3.6" fill="url(#gO)"/><circle cx="769.00" cy="420.00" r="3.6" fill="url(#gO)"/><circle cx="761.60" cy="418.50" r="3.6" fill="url(#gO)"/><circle cx="759.00" cy="438.10" r="3.8" fill="url(#gO)"/><circle cx="765.85" cy="477.70" r="3.6" fill="url(#gO)"/><circle cx="743.35" cy="477.70" r="3.6" fill="url(#gO)"/><circle cx="750.35" cy="478.30" r="3.7" fill="url(#gO)"/><circle cx="753.35" cy="458.10" r="3.8" fill="url(#gO)"/><circle cx="768.85" cy="420.00" r="3.6" fill="url(#gO)"/><circle cx="784.45" cy="418.50" r="3.6" fill="url(#gO)"/><circle cx="781.85" cy="438.10" r="3.8" fill="url(#gO)"/><circle cx="788.70" cy="477.70" r="3.6" fill="url(#gO)"/><circle cx="766.20" cy="477.70" r="3.6" fill="url(#gO)"/><circle cx="793.70" cy="476.10" r="3.6" fill="url(#gO)"/><circle cx="773.20" cy="478.30" r="3.7" fill="url(#gO)"/><circle cx="776.20" cy="458.10" r="3.8" fill="url(#gO)"/>
<circle cx="600.70" cy="381.80" r="3.7" fill="#141414"/><circle cx="601.50" cy="381.00" r="3.25" fill="url(#gH)"/>
<circle cx="605.70" cy="389.93" r="3.7" fill="#141414"/><circle cx="606.50" cy="389.12" r="3.25" fill="url(#gH)"/>
<circle cx="596.95" cy="399.30" r="3.7" fill="#141414"/><circle cx="597.75" cy="398.50" r="3.25" fill="url(#gH)"/>
<circle cx="607.58" cy="401.18" r="3.7" fill="#141414"/><circle cx="608.38" cy="400.38" r="3.25" fill="url(#gH)"/>
<circle cx="623.20" cy="379.30" r="3.7" fill="#141414"/><circle cx="624.00" cy="378.50" r="3.25" fill="url(#gH)"/>
<circle cx="628.20" cy="384.93" r="3.7" fill="#141414"/><circle cx="629.00" cy="384.12" r="3.25" fill="url(#gH)"/>
<circle cx="630.70" cy="401.80" r="3.7" fill="#141414"/><circle cx="631.50" cy="401.00" r="3.25" fill="url(#gH)"/>
<circle cx="636.95" cy="401.18" r="3.7" fill="#141414"/><circle cx="637.75" cy="400.38" r="3.25" fill="url(#gH)"/>
<circle cx="636.33" cy="379.93" r="3.7" fill="#141414"/><circle cx="637.12" cy="379.12" r="3.25" fill="url(#gH)"/>
<circle cx="648.20" cy="379.30" r="3.7" fill="#141414"/><circle cx="649.00" cy="378.50" r="3.25" fill="url(#gH)"/>
<circle cx="651.95" cy="389.30" r="3.7" fill="#141414"/><circle cx="652.75" cy="388.50" r="3.25" fill="url(#gH)"/>
<circle cx="656.95" cy="385.55" r="3.7" fill="#141414"/><circle cx="657.75" cy="384.75" r="3.25" fill="url(#gH)"/>
<circle cx="671.95" cy="389.30" r="3.7" fill="#141414"/><circle cx="672.75" cy="388.50" r="3.25" fill="url(#gH)"/>
<circle cx="656.33" cy="399.93" r="3.7" fill="#141414"/><circle cx="657.12" cy="399.12" r="3.25" fill="url(#gH)"/>
<circle cx="668.20" cy="399.30" r="3.7" fill="#141414"/><circle cx="669.00" cy="398.50" r="3.25" fill="url(#gH)"/>
<circle cx="674.45" cy="406.18" r="3.7" fill="#141414"/><circle cx="675.25" cy="405.38" r="3.25" fill="url(#gH)"/>
<circle cx="681.33" cy="380.55" r="3.7" fill="#141414"/><circle cx="682.12" cy="379.75" r="3.25" fill="url(#gH)"/>
<circle cx="685.08" cy="389.93" r="3.7" fill="#141414"/><circle cx="685.88" cy="389.12" r="3.25" fill="url(#gH)"/>
<circle cx="696.33" cy="391.18" r="3.7" fill="#141414"/><circle cx="697.12" cy="390.38" r="3.25" fill="url(#gH)"/>
<circle cx="691.95" cy="371.18" r="3.7" fill="#141414"/><circle cx="692.75" cy="370.38" r="3.25" fill="url(#gH)"/>
<circle cx="614.45" cy="405.55" r="3.7" fill="#141414"/><circle cx="615.25" cy="404.75" r="3.25" fill="url(#gH)"/>
<circle cx="617.58" cy="406.18" r="3.7" fill="#141414"/><circle cx="618.38" cy="405.38" r="3.25" fill="url(#gH)"/>
<circle cx="651.95" cy="410.55" r="3.7" fill="#141414"/><circle cx="652.75" cy="409.75" r="3.25" fill="url(#gH)"/>
<circle cx="664.45" cy="413.68" r="3.7" fill="#141414"/><circle cx="665.25" cy="412.88" r="3.25" fill="url(#gH)"/>
<circle cx="705.70" cy="382.43" r="3.7" fill="#141414"/><circle cx="706.50" cy="381.62" r="3.25" fill="url(#gH)"/>
<circle cx="716.33" cy="381.80" r="3.7" fill="#141414"/><circle cx="717.12" cy="381.00" r="3.25" fill="url(#gH)"/>
<circle cx="709.45" cy="390.55" r="3.7" fill="#141414"/><circle cx="710.25" cy="389.75" r="3.25" fill="url(#gH)"/>
<circle cx="703.20" cy="390.55" r="3.7" fill="#141414"/><circle cx="704.00" cy="389.75" r="3.25" fill="url(#gH)"/>
<circle cx="710.70" cy="399.30" r="3.7" fill="#141414"/><circle cx="711.50" cy="398.50" r="3.25" fill="url(#gH)"/>
<circle cx="706.95" cy="405.55" r="3.7" fill="#141414"/><circle cx="707.75" cy="404.75" r="3.25" fill="url(#gH)"/>
<circle cx="734.45" cy="390.55" r="3.7" fill="#141414"/><circle cx="735.25" cy="389.75" r="3.25" fill="url(#gH)"/>
<circle cx="739.45" cy="379.93" r="3.7" fill="#141414"/><circle cx="740.25" cy="379.12" r="3.25" fill="url(#gH)"/>
<circle cx="731.33" cy="401.18" r="3.7" fill="#141414"/><circle cx="732.12" cy="400.38" r="3.25" fill="url(#gH)"/>
<circle cx="721.33" cy="401.18" r="3.7" fill="#141414"/><circle cx="722.12" cy="400.38" r="3.25" fill="url(#gH)"/>
<circle cx="741.95" cy="400.55" r="3.7" fill="#141414"/><circle cx="742.75" cy="399.75" r="3.25" fill="url(#gH)"/>
<circle cx="748.20" cy="402.43" r="3.7" fill="#141414"/><circle cx="749.00" cy="401.62" r="3.25" fill="url(#gH)"/>
<circle cx="750.70" cy="382.43" r="3.7" fill="#141414"/><circle cx="751.50" cy="381.62" r="3.25" fill="url(#gH)"/>
<circle cx="762.58" cy="383.68" r="3.7" fill="#141414"/><circle cx="763.38" cy="382.88" r="3.25" fill="url(#gH)"/>
<circle cx="754.45" cy="399.30" r="3.7" fill="#141414"/><circle cx="755.25" cy="398.50" r="3.25" fill="url(#gH)"/>
<circle cx="759.45" cy="399.30" r="3.7" fill="#141414"/><circle cx="760.25" cy="398.50" r="3.25" fill="url(#gH)"/>
<circle cx="755.70" cy="414.93" r="3.7" fill="#141414"/><circle cx="756.50" cy="414.12" r="3.25" fill="url(#gH)"/>
<circle cx="766.95" cy="406.18" r="3.7" fill="#141414"/><circle cx="767.75" cy="405.38" r="3.25" fill="url(#gH)"/>
<circle cx="765.70" cy="390.55" r="3.7" fill="#141414"/><circle cx="766.50" cy="389.75" r="3.25" fill="url(#gH)"/>
<circle cx="774.45" cy="405.55" r="3.7" fill="#141414"/><circle cx="775.25" cy="404.75" r="3.25" fill="url(#gH)"/>
<circle cx="788.20" cy="406.18" r="3.7" fill="#141414"/><circle cx="789.00" cy="405.38" r="3.25" fill="url(#gH)"/>
<circle cx="778.20" cy="414.30" r="3.7" fill="#141414"/><circle cx="779.00" cy="413.50" r="3.25" fill="url(#gH)"/>
<circle cx="596.25" cy="383.75" r="3.9" fill="url(#gO)"/>
<circle cx="622.50" cy="385.00" r="3.9" fill="url(#gO)"/>
<circle cx="643.75" cy="376.88" r="3.9" fill="url(#gO)"/>
<circle cx="666.25" cy="383.75" r="3.9" fill="url(#gO)"/>
<circle cx="690.62" cy="377.50" r="3.9" fill="url(#gO)"/>
<circle cx="603.75" cy="395.00" r="3.9" fill="url(#gO)"/>
<circle cx="613.12" cy="393.75" r="3.9" fill="url(#gO)"/>
<circle cx="619.38" cy="395.00" r="3.9" fill="url(#gO)"/>
<circle cx="628.12" cy="393.75" r="3.9" fill="url(#gO)"/>
<circle cx="638.75" cy="394.38" r="3.9" fill="url(#gO)"/>
<circle cx="652.50" cy="395.00" r="3.9" fill="url(#gO)"/>
<circle cx="661.88" cy="393.12" r="3.9" fill="url(#gO)"/>
<circle cx="671.25" cy="394.38" r="3.9" fill="url(#gO)"/>
<circle cx="677.50" cy="393.75" r="3.9" fill="url(#gO)"/>
<circle cx="683.12" cy="395.62" r="3.9" fill="url(#gO)"/>
<circle cx="691.88" cy="395.00" r="3.9" fill="url(#gO)"/>
<circle cx="621.25" cy="409.38" r="3.9" fill="url(#gO)"/>
<circle cx="645.00" cy="411.88" r="3.9" fill="url(#gO)"/>
<circle cx="666.88" cy="406.88" r="3.9" fill="url(#gO)"/>
<circle cx="691.25" cy="413.12" r="3.9" fill="url(#gO)"/>
<circle cx="735.00" cy="376.88" r="3.9" fill="url(#gO)"/>
<circle cx="757.50" cy="381.88" r="3.9" fill="url(#gO)"/>
<circle cx="711.25" cy="383.12" r="3.9" fill="url(#gO)"/>
<circle cx="704.38" cy="395.62" r="3.9" fill="url(#gO)"/>
<circle cx="718.75" cy="395.00" r="3.9" fill="url(#gO)"/>
<circle cx="728.75" cy="394.38" r="3.9" fill="url(#gO)"/>
<circle cx="738.12" cy="395.00" r="3.9" fill="url(#gO)"/>
<circle cx="745.00" cy="394.38" r="3.9" fill="url(#gO)"/>
<circle cx="753.12" cy="393.75" r="3.9" fill="url(#gO)"/>
<circle cx="768.75" cy="395.62" r="3.9" fill="url(#gO)"/>
<circle cx="778.75" cy="396.25" r="3.9" fill="url(#gO)"/>
<circle cx="713.12" cy="407.50" r="3.9" fill="url(#gO)"/>
<circle cx="735.00" cy="412.50" r="3.9" fill="url(#gO)"/>
<circle cx="760.62" cy="408.75" r="3.9" fill="url(#gO)"/>
<circle cx="781.25" cy="409.38" r="3.9" fill="url(#gO)"/>
<circle cx="782.50" cy="404.38" r="3.9" fill="url(#gO)"/>
<circle cx="590.70" cy="386.18" r="3.7" fill="#141414"/><circle cx="591.50" cy="385.38" r="3.25" fill="url(#gH)"/>
<circle cx="597.58" cy="391.80" r="3.7" fill="#141414"/><circle cx="598.38" cy="391.00" r="3.25" fill="url(#gH)"/>
<circle cx="613.20" cy="387.43" r="3.7" fill="#141414"/><circle cx="614.00" cy="386.62" r="3.25" fill="url(#gH)"/>
<circle cx="623.83" cy="399.93" r="3.7" fill="#141414"/><circle cx="624.62" cy="399.12" r="3.25" fill="url(#gH)"/>
<circle cx="635.08" cy="389.93" r="3.7" fill="#141414"/><circle cx="635.88" cy="389.12" r="3.25" fill="url(#gH)"/>
<circle cx="645.70" cy="390.55" r="3.7" fill="#141414"/><circle cx="646.50" cy="389.75" r="3.25" fill="url(#gH)"/>
<circle cx="666.95" cy="376.80" r="3.7" fill="#141414"/><circle cx="667.75" cy="376.00" r="3.25" fill="url(#gH)"/>
<circle cx="660.70" cy="404.93" r="3.7" fill="#141414"/><circle cx="661.50" cy="404.12" r="3.25" fill="url(#gH)"/>
<circle cx="678.20" cy="400.55" r="3.7" fill="#141414"/><circle cx="679.00" cy="399.75" r="3.25" fill="url(#gH)"/>
<circle cx="688.20" cy="401.18" r="3.7" fill="#141414"/><circle cx="689.00" cy="400.38" r="3.25" fill="url(#gH)"/>
<circle cx="693.83" cy="381.18" r="3.7" fill="#141414"/><circle cx="694.62" cy="380.38" r="3.25" fill="url(#gH)"/>
<circle cx="640.08" cy="411.18" r="3.7" fill="#141414"/><circle cx="640.88" cy="410.38" r="3.25" fill="url(#gH)"/>
<circle cx="685.08" cy="411.18" r="3.7" fill="#141414"/><circle cx="685.88" cy="410.38" r="3.25" fill="url(#gH)"/>
<circle cx="718.20" cy="386.18" r="3.7" fill="#141414"/><circle cx="719.00" cy="385.38" r="3.25" fill="url(#gH)"/>
<circle cx="696.95" cy="391.18" r="3.7" fill="#141414"/><circle cx="697.75" cy="390.38" r="3.25" fill="url(#gH)"/>
<circle cx="727.58" cy="389.93" r="3.7" fill="#141414"/><circle cx="728.38" cy="389.12" r="3.25" fill="url(#gH)"/>
<circle cx="726.33" cy="400.55" r="3.7" fill="#141414"/><circle cx="727.12" cy="399.75" r="3.25" fill="url(#gH)"/>
<circle cx="729.45" cy="410.55" r="3.7" fill="#141414"/><circle cx="730.25" cy="409.75" r="3.25" fill="url(#gH)"/>
<circle cx="746.33" cy="389.93" r="3.7" fill="#141414"/><circle cx="747.12" cy="389.12" r="3.25" fill="url(#gH)"/>
<circle cx="760.08" cy="391.80" r="3.7" fill="#141414"/><circle cx="760.88" cy="391.00" r="3.25" fill="url(#gH)"/>
<circle cx="755.70" cy="406.80" r="3.7" fill="#141414"/><circle cx="756.50" cy="406.00" r="3.25" fill="url(#gH)"/>
<circle cx="772.58" cy="391.18" r="3.7" fill="#141414"/><circle cx="773.38" cy="390.38" r="3.25" fill="url(#gH)"/>
<circle cx="780.70" cy="400.55" r="3.7" fill="#141414"/><circle cx="781.50" cy="399.75" r="3.25" fill="url(#gH)"/>
<circle cx="768.20" cy="401.18" r="3.7" fill="#141414"/><circle cx="769.00" cy="400.38" r="3.25" fill="url(#gH)"/>
<circle cx="644.4" cy="394.4" r="1.2" fill="#8040d0"/><circle cx="735.6" cy="395" r="1.2" fill="#8040d0"/>
</g>
</svg></body></html>
